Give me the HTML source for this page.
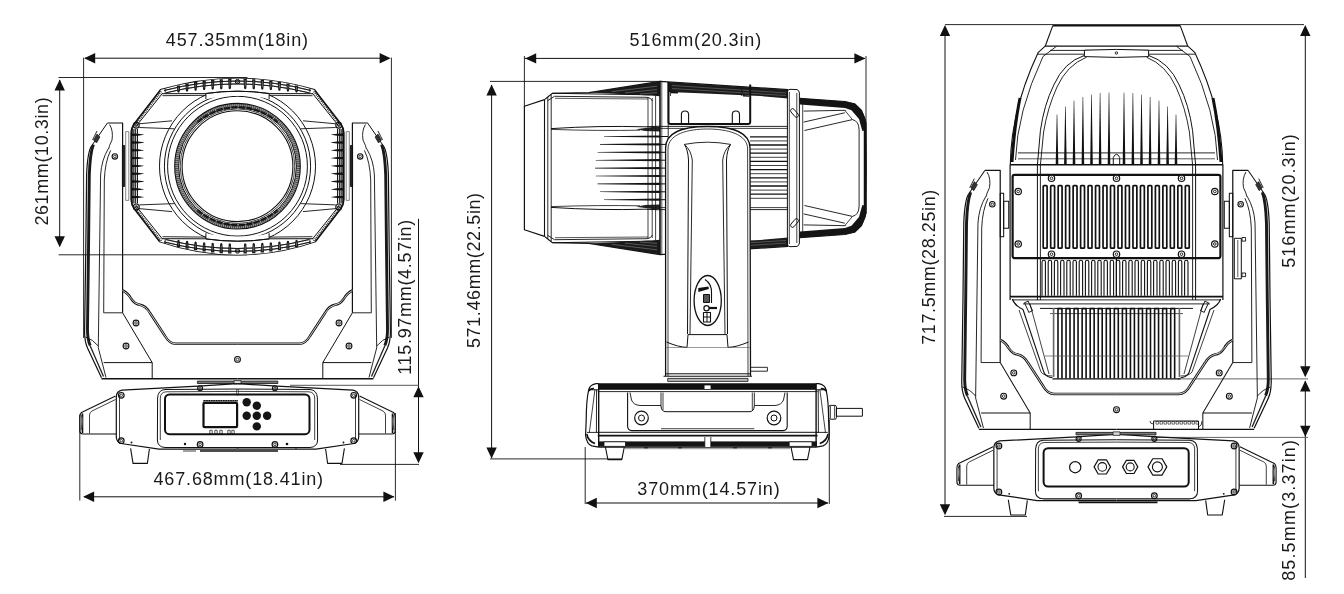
<!DOCTYPE html>
<html><head><meta charset="utf-8"><style>
html,body{margin:0;padding:0;background:#fff;width:1344px;height:594px;overflow:hidden;}
svg{display:block;will-change:transform;}
text{font-family:"Liberation Sans",sans-serif;font-size:18px;fill:#1a1a1a;}
</style></head><body>
<svg width="1344" height="594" viewBox="0 0 1344 594" stroke-linecap="butt" stroke-linejoin="round">
<text x="165.8" y="46.4" textLength="142.3" lengthAdjust="spacing">457.35mm(18in)</text>
<line x1="85" y1="58.2" x2="389" y2="58.2" stroke="#111" stroke-width="1"/>
<polygon points="84.2,58.2 95.2,53 95.2,63.4" fill="#111" stroke="none" stroke-width="1"/>
<polygon points="390.6,58.2 379.6,53 379.6,63.4" fill="#111" stroke="none" stroke-width="1"/>
<line x1="83.6" y1="57.6" x2="83.6" y2="338" stroke="#111" stroke-width="0.9"/>
<line x1="391.4" y1="57.6" x2="391.4" y2="338" stroke="#111" stroke-width="0.9"/>
<text x="0" y="0" transform="translate(48.1,225.6) rotate(-90)" textLength="128.3" lengthAdjust="spacing">261mm(10.3in)</text>
<line x1="59.7" y1="80" x2="59.7" y2="246" stroke="#111" stroke-width="1"/>
<polygon points="59.7,79.4 54.5,90.4 64.9,90.4" fill="#111" stroke="none" stroke-width="1"/>
<polygon points="59.7,247.2 54.5,236.2 64.9,236.2" fill="#111" stroke="none" stroke-width="1"/>
<line x1="58.6" y1="77.5" x2="247.5" y2="77.5" stroke="#111" stroke-width="0.9"/>
<line x1="58.6" y1="254.8" x2="247" y2="254.8" stroke="#111" stroke-width="0.9"/>
<text x="0" y="0" transform="translate(410.8,374.8) rotate(-90)" textLength="155.1" lengthAdjust="spacing">115.97mm(4.57in)</text>
<line x1="418.5" y1="218.8" x2="418.5" y2="462" stroke="#111" stroke-width="1"/>
<polygon points="418.5,386.3 413.3,397.3 423.7,397.3" fill="#111" stroke="none" stroke-width="1"/>
<polygon points="418.5,463.2 413.3,452.2 423.7,452.2" fill="#111" stroke="none" stroke-width="1"/>
<line x1="290" y1="385.3" x2="419" y2="385.3" stroke="#444" stroke-width="0.9"/>
<line x1="340" y1="464.4" x2="419" y2="464.4" stroke="#111" stroke-width="0.9"/>
<text x="153.5" y="485.2" textLength="169.6" lengthAdjust="spacing">467.68mm(18.41in)</text>
<line x1="84" y1="496.8" x2="394" y2="496.8" stroke="#111" stroke-width="1"/>
<polygon points="83.1,496.8 94.1,491.6 94.1,502" fill="#111" stroke="none" stroke-width="1"/>
<polygon points="394.4,496.8 383.4,491.6 383.4,502" fill="#111" stroke="none" stroke-width="1"/>
<line x1="79.8" y1="414.5" x2="79.8" y2="500.5" stroke="#111" stroke-width="0.9"/>
<line x1="395.4" y1="413" x2="395.4" y2="500.7" stroke="#111" stroke-width="0.9"/>
<text x="629.6" y="46.2" textLength="131.6" lengthAdjust="spacing">516mm(20.3in)</text>
<line x1="525" y1="58.4" x2="865" y2="58.4" stroke="#111" stroke-width="1"/>
<polygon points="525.2,58.4 536.2,53.2 536.2,63.6" fill="#111" stroke="none" stroke-width="1"/>
<polygon points="865.4,58.4 854.4,53.2 854.4,63.6" fill="#111" stroke="none" stroke-width="1"/>
<line x1="524.4" y1="56" x2="524.4" y2="107" stroke="#111" stroke-width="0.9"/>
<line x1="866" y1="56" x2="866" y2="122" stroke="#111" stroke-width="0.9"/>
<text x="0" y="0" transform="translate(479.8,348) rotate(-90)" textLength="155.1" lengthAdjust="spacing">571.46mm(22.5in)</text>
<line x1="491.6" y1="85" x2="491.6" y2="458" stroke="#111" stroke-width="1"/>
<polygon points="491.6,84.4 486.4,95.4 496.8,95.4" fill="#111" stroke="none" stroke-width="1"/>
<polygon points="491.6,458.6 486.4,447.6 496.8,447.6" fill="#111" stroke="none" stroke-width="1"/>
<line x1="490" y1="81.4" x2="662" y2="81.4" stroke="#111" stroke-width="0.9"/>
<line x1="490" y1="458.9" x2="622" y2="458.9" stroke="#111" stroke-width="0.9"/>
<text x="637.3" y="494.5" textLength="142.4" lengthAdjust="spacing">370mm(14.57in)</text>
<line x1="586" y1="503" x2="828" y2="503" stroke="#111" stroke-width="1"/>
<polygon points="585.8,503 596.8,497.8 596.8,508.2" fill="#111" stroke="none" stroke-width="1"/>
<polygon points="828.4,503 817.4,497.8 817.4,508.2" fill="#111" stroke="none" stroke-width="1"/>
<line x1="585.2" y1="447" x2="585.2" y2="504" stroke="#111" stroke-width="0.9"/>
<line x1="829.3" y1="420" x2="829.3" y2="504" stroke="#111" stroke-width="0.9"/>
<text x="0" y="0" transform="translate(935.2,344.8) rotate(-90)" textLength="155.1" lengthAdjust="spacing">717.5mm(28.25in)</text>
<line x1="945" y1="27" x2="945" y2="513" stroke="#111" stroke-width="1"/>
<polygon points="945,25 939.8,36 950.2,36" fill="#111" stroke="none" stroke-width="1"/>
<polygon points="945,515.2 939.8,504.2 950.2,504.2" fill="#111" stroke="none" stroke-width="1"/>
<line x1="945" y1="24.6" x2="1304" y2="24.6" stroke="#111" stroke-width="0.9"/>
<line x1="944" y1="516.4" x2="1027" y2="516.4" stroke="#111" stroke-width="0.9"/>
<text x="0" y="0" transform="translate(1295,267.7) rotate(-90)" textLength="133.4" lengthAdjust="spacing">516mm(20.3in)</text>
<line x1="1305.3" y1="27" x2="1305.3" y2="376" stroke="#111" stroke-width="1"/>
<polygon points="1305.3,25 1300.1,36 1310.5,36" fill="#111" stroke="none" stroke-width="1"/>
<polygon points="1305.3,377.2 1300.1,366.2 1310.5,366.2" fill="#111" stroke="none" stroke-width="1"/>
<line x1="1177.7" y1="378.9" x2="1308" y2="378.9" stroke="#555" stroke-width="0.9"/>
<line x1="1305.3" y1="381" x2="1305.3" y2="578" stroke="#111" stroke-width="1"/>
<polygon points="1305.3,380.6 1300.1,391.6 1310.5,391.6" fill="#111" stroke="none" stroke-width="1"/>
<polygon points="1305.3,436.8 1300.1,425.8 1310.5,425.8" fill="#111" stroke="none" stroke-width="1"/>
<line x1="1157" y1="437.4" x2="1308" y2="437.4" stroke="#555" stroke-width="0.9"/>
<text x="0" y="0" transform="translate(1295.3,580.8) rotate(-90)" textLength="140.8" lengthAdjust="spacing">85.5mm(3.37in)</text>
<path d="M160.4 89.9 Q237.5 67.1 314.6 89.9 L340.5 123.5 Q343.8 128 343.8 133 L343.8 199.5 Q343.8 204.5 340.5 209 L315.4 241.4 Q237.5 267.9 159.6 241.4 L134.5 209 Q131.2 204.5 131.2 199.5 L131.2 133 Q131.2 128 134.5 123.5 Z" stroke="#111" stroke-width="1.7" fill="none" />
<circle cx="237.5" cy="166.2" r="78" stroke="#111" stroke-width="1.0" fill="none"/>
<circle cx="237.5" cy="166.2" r="73.1" stroke="#111" stroke-width="1.0" fill="none"/>
<circle cx="237.5" cy="166.2" r="69.9" stroke="#111" stroke-width="1.0" fill="none"/>
<circle cx="237.5" cy="166.2" r="60.8" stroke="#9a9a9a" stroke-width="3.6" fill="none"/>
<circle cx="237.5" cy="166.2" r="60.8" stroke="#333" stroke-width="3.6" fill="none" stroke-dasharray="0.7 1.3"/>
<path d="M197.5 122.19999999999999 A60.8 60.8 0 0 1 277.5 122.19999999999999" stroke="#222" stroke-width="2.6" fill="none" stroke-dasharray="6 1.5"/>
<path d="M197.5 210.2 A60.8 60.8 0 0 0 277.5 210.2" stroke="#222" stroke-width="2.6" fill="none" stroke-dasharray="6 1.5"/>
<circle cx="237.5" cy="166.2" r="62.8" stroke="#111" stroke-width="1.1" fill="none"/>
<circle cx="237.5" cy="166.2" r="58.9" stroke="#111" stroke-width="1.0" fill="none"/>
<circle cx="237.5" cy="166.2" r="57.3" stroke="#111" stroke-width="0.8" fill="none"/>
<circle cx="237.5" cy="166.2" r="55.4" stroke="#111" stroke-width="1.1" fill="none"/>
<path d="M160.4 89.9 Q237.5 67.1 314.6 89.9 L313 95.6 L269.3 93.9 L269.3 99 Q237.5 92.5 205.9 99 L205.9 93.9 L162 95.6 Z" stroke="none" stroke-width="0" fill="#fff" />
<path d="M159.6 241.4 Q237.5 267.9 315.4 241.4 L313 236.9 L269.3 238.6 L269.3 233.5 Q237.5 240 205.9 233.5 L205.9 238.6 L162 236.9 Z" stroke="none" stroke-width="0" fill="#fff" />
<line x1="162" y1="93.7" x2="205.9" y2="93.6" stroke="#111" stroke-width="1.0"/>
<line x1="162.5" y1="95.7" x2="205.9" y2="95.3" stroke="#111" stroke-width="0.9"/>
<line x1="205.9" y1="93.3" x2="205.9" y2="99.2" stroke="#111" stroke-width="1.0"/>
<path d="M205.9 93.5 Q237.5 88.9 269.1 93.5" stroke="#111" stroke-width="1.0" fill="none" />
<path d="M164 90.5 Q237.5 71.5 311 90.5" stroke="#111" stroke-width="0.8" fill="none" />
<path d="M166 92.8 Q237.5 75 309 92.8" stroke="#111" stroke-width="0.8" fill="none" />
<line x1="165.2" y1="88.6" x2="165.2" y2="93.5" stroke="#111" stroke-width="0.8"/>
<path d="M176.80 85.38 L180.20 85.38 L179.60 91.76 Q178.50 93.46 177.40 91.76 Z" stroke="none" stroke-width="0" fill="#1a1a1a" />
<line x1="178.5" y1="86.68" x2="178.5" y2="90.06" stroke="#888" stroke-width="0.7"/>
<path d="M185.35 83.58 L188.75 83.58 L188.15 90.82 Q187.05 92.52 185.95 90.82 Z" stroke="none" stroke-width="0" fill="#1a1a1a" />
<line x1="187.05" y1="84.88" x2="187.05" y2="89.12" stroke="#888" stroke-width="0.7"/>
<path d="M193.90 82.07 L197.30 82.07 L196.70 90.02 Q195.60 91.72 194.50 90.02 Z" stroke="none" stroke-width="0" fill="#1a1a1a" />
<line x1="195.6" y1="83.37" x2="195.6" y2="88.32" stroke="#888" stroke-width="0.7"/>
<path d="M202.45 80.83 L205.85 80.83 L205.25 89.37 Q204.15 91.07 203.05 89.37 Z" stroke="none" stroke-width="0" fill="#1a1a1a" />
<line x1="204.15" y1="82.13" x2="204.15" y2="87.67" stroke="#888" stroke-width="0.7"/>
<path d="M211.00 79.88 L214.40 79.88 L213.80 88.87 Q212.70 90.57 211.60 88.87 Z" stroke="none" stroke-width="0" fill="#1a1a1a" />
<line x1="212.7" y1="81.18" x2="212.7" y2="87.17" stroke="#888" stroke-width="0.7"/>
<path d="M219.55 79.21 L222.95 79.21 L222.35 88.52 Q221.25 90.22 220.15 88.52 Z" stroke="none" stroke-width="0" fill="#1a1a1a" />
<line x1="221.25" y1="80.51" x2="221.25" y2="86.82" stroke="#888" stroke-width="0.7"/>
<path d="M228.10 78.81 L231.50 78.81 L230.90 88.31 Q229.80 90.01 228.70 88.31 Z" stroke="none" stroke-width="0" fill="#1a1a1a" />
<line x1="229.8" y1="80.11" x2="229.8" y2="86.61" stroke="#888" stroke-width="0.7"/>
<line x1="162.6" y1="93.2" x2="136" y2="126.4" stroke="#111" stroke-width="1.0"/>
<line x1="161.3" y1="91.5" x2="134.3" y2="125.8" stroke="#333" stroke-width="1.8" stroke-dasharray="1 1"/>
<line x1="133" y1="129" x2="133" y2="203.5" stroke="#111" stroke-width="0.9"/>
<line x1="135.2" y1="129" x2="135.2" y2="203.5" stroke="#111" stroke-width="0.9"/>
<line x1="137.4" y1="129" x2="137.4" y2="203.5" stroke="#111" stroke-width="0.9"/>
<line x1="139" y1="123.8" x2="172" y2="120.8" stroke="#111" stroke-width="0.9"/>
<line x1="139.3" y1="127.5" x2="174.5" y2="128.8" stroke="#111" stroke-width="0.9"/>
<g transform="translate(475.0,0) scale(-1,1)">
<line x1="162" y1="93.7" x2="205.9" y2="93.6" stroke="#111" stroke-width="1.0"/>
<line x1="162.5" y1="95.7" x2="205.9" y2="95.3" stroke="#111" stroke-width="0.9"/>
<line x1="205.9" y1="93.3" x2="205.9" y2="99.2" stroke="#111" stroke-width="1.0"/>
<path d="M205.9 93.5 Q237.5 88.9 269.1 93.5" stroke="#111" stroke-width="1.0" fill="none" />
<path d="M164 90.5 Q237.5 71.5 311 90.5" stroke="#111" stroke-width="0.8" fill="none" />
<path d="M166 92.8 Q237.5 75 309 92.8" stroke="#111" stroke-width="0.8" fill="none" />
<line x1="165.2" y1="88.6" x2="165.2" y2="93.5" stroke="#111" stroke-width="0.8"/>
<path d="M176.80 85.38 L180.20 85.38 L179.60 91.76 Q178.50 93.46 177.40 91.76 Z" stroke="none" stroke-width="0" fill="#1a1a1a" />
<line x1="178.5" y1="86.68" x2="178.5" y2="90.06" stroke="#888" stroke-width="0.7"/>
<path d="M185.35 83.58 L188.75 83.58 L188.15 90.82 Q187.05 92.52 185.95 90.82 Z" stroke="none" stroke-width="0" fill="#1a1a1a" />
<line x1="187.05" y1="84.88" x2="187.05" y2="89.12" stroke="#888" stroke-width="0.7"/>
<path d="M193.90 82.07 L197.30 82.07 L196.70 90.02 Q195.60 91.72 194.50 90.02 Z" stroke="none" stroke-width="0" fill="#1a1a1a" />
<line x1="195.6" y1="83.37" x2="195.6" y2="88.32" stroke="#888" stroke-width="0.7"/>
<path d="M202.45 80.83 L205.85 80.83 L205.25 89.37 Q204.15 91.07 203.05 89.37 Z" stroke="none" stroke-width="0" fill="#1a1a1a" />
<line x1="204.15" y1="82.13" x2="204.15" y2="87.67" stroke="#888" stroke-width="0.7"/>
<path d="M211.00 79.88 L214.40 79.88 L213.80 88.87 Q212.70 90.57 211.60 88.87 Z" stroke="none" stroke-width="0" fill="#1a1a1a" />
<line x1="212.7" y1="81.18" x2="212.7" y2="87.17" stroke="#888" stroke-width="0.7"/>
<path d="M219.55 79.21 L222.95 79.21 L222.35 88.52 Q221.25 90.22 220.15 88.52 Z" stroke="none" stroke-width="0" fill="#1a1a1a" />
<line x1="221.25" y1="80.51" x2="221.25" y2="86.82" stroke="#888" stroke-width="0.7"/>
<path d="M228.10 78.81 L231.50 78.81 L230.90 88.31 Q229.80 90.01 228.70 88.31 Z" stroke="none" stroke-width="0" fill="#1a1a1a" />
<line x1="229.8" y1="80.11" x2="229.8" y2="86.61" stroke="#888" stroke-width="0.7"/>
<line x1="162.6" y1="93.2" x2="136" y2="126.4" stroke="#111" stroke-width="1.0"/>
<line x1="161.3" y1="91.5" x2="134.3" y2="125.8" stroke="#333" stroke-width="1.8" stroke-dasharray="1 1"/>
<line x1="133" y1="129" x2="133" y2="203.5" stroke="#111" stroke-width="0.9"/>
<line x1="135.2" y1="129" x2="135.2" y2="203.5" stroke="#111" stroke-width="0.9"/>
<line x1="137.4" y1="129" x2="137.4" y2="203.5" stroke="#111" stroke-width="0.9"/>
<line x1="139" y1="123.8" x2="172" y2="120.8" stroke="#111" stroke-width="0.9"/>
<line x1="139.3" y1="127.5" x2="174.5" y2="128.8" stroke="#111" stroke-width="0.9"/>
</g>
<g transform="translate(0,332.4) scale(1,-1)">
<line x1="162" y1="93.7" x2="205.9" y2="93.6" stroke="#111" stroke-width="1.0"/>
<line x1="162.5" y1="95.7" x2="205.9" y2="95.3" stroke="#111" stroke-width="0.9"/>
<line x1="205.9" y1="93.3" x2="205.9" y2="99.2" stroke="#111" stroke-width="1.0"/>
<path d="M205.9 93.5 Q237.5 88.9 269.1 93.5" stroke="#111" stroke-width="1.0" fill="none" />
<path d="M164 90.5 Q237.5 71.5 311 90.5" stroke="#111" stroke-width="0.8" fill="none" />
<path d="M166 92.8 Q237.5 75 309 92.8" stroke="#111" stroke-width="0.8" fill="none" />
<line x1="165.2" y1="88.6" x2="165.2" y2="93.5" stroke="#111" stroke-width="0.8"/>
<path d="M176.80 85.38 L180.20 85.38 L179.60 91.76 Q178.50 93.46 177.40 91.76 Z" stroke="none" stroke-width="0" fill="#1a1a1a" />
<line x1="178.5" y1="86.68" x2="178.5" y2="90.06" stroke="#888" stroke-width="0.7"/>
<path d="M185.35 83.58 L188.75 83.58 L188.15 90.82 Q187.05 92.52 185.95 90.82 Z" stroke="none" stroke-width="0" fill="#1a1a1a" />
<line x1="187.05" y1="84.88" x2="187.05" y2="89.12" stroke="#888" stroke-width="0.7"/>
<path d="M193.90 82.07 L197.30 82.07 L196.70 90.02 Q195.60 91.72 194.50 90.02 Z" stroke="none" stroke-width="0" fill="#1a1a1a" />
<line x1="195.6" y1="83.37" x2="195.6" y2="88.32" stroke="#888" stroke-width="0.7"/>
<path d="M202.45 80.83 L205.85 80.83 L205.25 89.37 Q204.15 91.07 203.05 89.37 Z" stroke="none" stroke-width="0" fill="#1a1a1a" />
<line x1="204.15" y1="82.13" x2="204.15" y2="87.67" stroke="#888" stroke-width="0.7"/>
<path d="M211.00 79.88 L214.40 79.88 L213.80 88.87 Q212.70 90.57 211.60 88.87 Z" stroke="none" stroke-width="0" fill="#1a1a1a" />
<line x1="212.7" y1="81.18" x2="212.7" y2="87.17" stroke="#888" stroke-width="0.7"/>
<path d="M219.55 79.21 L222.95 79.21 L222.35 88.52 Q221.25 90.22 220.15 88.52 Z" stroke="none" stroke-width="0" fill="#1a1a1a" />
<line x1="221.25" y1="80.51" x2="221.25" y2="86.82" stroke="#888" stroke-width="0.7"/>
<path d="M228.10 78.81 L231.50 78.81 L230.90 88.31 Q229.80 90.01 228.70 88.31 Z" stroke="none" stroke-width="0" fill="#1a1a1a" />
<line x1="229.8" y1="80.11" x2="229.8" y2="86.61" stroke="#888" stroke-width="0.7"/>
<line x1="162.6" y1="93.2" x2="136" y2="126.4" stroke="#111" stroke-width="1.0"/>
<line x1="161.3" y1="91.5" x2="134.3" y2="125.8" stroke="#333" stroke-width="1.8" stroke-dasharray="1 1"/>
<line x1="133" y1="129" x2="133" y2="203.5" stroke="#111" stroke-width="0.9"/>
<line x1="135.2" y1="129" x2="135.2" y2="203.5" stroke="#111" stroke-width="0.9"/>
<line x1="137.4" y1="129" x2="137.4" y2="203.5" stroke="#111" stroke-width="0.9"/>
<line x1="139" y1="123.8" x2="172" y2="120.8" stroke="#111" stroke-width="0.9"/>
<line x1="139.3" y1="127.5" x2="174.5" y2="128.8" stroke="#111" stroke-width="0.9"/>
</g>
<g transform="translate(475.0,332.4) scale(-1,-1)">
<line x1="162" y1="93.7" x2="205.9" y2="93.6" stroke="#111" stroke-width="1.0"/>
<line x1="162.5" y1="95.7" x2="205.9" y2="95.3" stroke="#111" stroke-width="0.9"/>
<line x1="205.9" y1="93.3" x2="205.9" y2="99.2" stroke="#111" stroke-width="1.0"/>
<path d="M205.9 93.5 Q237.5 88.9 269.1 93.5" stroke="#111" stroke-width="1.0" fill="none" />
<path d="M164 90.5 Q237.5 71.5 311 90.5" stroke="#111" stroke-width="0.8" fill="none" />
<path d="M166 92.8 Q237.5 75 309 92.8" stroke="#111" stroke-width="0.8" fill="none" />
<line x1="165.2" y1="88.6" x2="165.2" y2="93.5" stroke="#111" stroke-width="0.8"/>
<path d="M176.80 85.38 L180.20 85.38 L179.60 91.76 Q178.50 93.46 177.40 91.76 Z" stroke="none" stroke-width="0" fill="#1a1a1a" />
<line x1="178.5" y1="86.68" x2="178.5" y2="90.06" stroke="#888" stroke-width="0.7"/>
<path d="M185.35 83.58 L188.75 83.58 L188.15 90.82 Q187.05 92.52 185.95 90.82 Z" stroke="none" stroke-width="0" fill="#1a1a1a" />
<line x1="187.05" y1="84.88" x2="187.05" y2="89.12" stroke="#888" stroke-width="0.7"/>
<path d="M193.90 82.07 L197.30 82.07 L196.70 90.02 Q195.60 91.72 194.50 90.02 Z" stroke="none" stroke-width="0" fill="#1a1a1a" />
<line x1="195.6" y1="83.37" x2="195.6" y2="88.32" stroke="#888" stroke-width="0.7"/>
<path d="M202.45 80.83 L205.85 80.83 L205.25 89.37 Q204.15 91.07 203.05 89.37 Z" stroke="none" stroke-width="0" fill="#1a1a1a" />
<line x1="204.15" y1="82.13" x2="204.15" y2="87.67" stroke="#888" stroke-width="0.7"/>
<path d="M211.00 79.88 L214.40 79.88 L213.80 88.87 Q212.70 90.57 211.60 88.87 Z" stroke="none" stroke-width="0" fill="#1a1a1a" />
<line x1="212.7" y1="81.18" x2="212.7" y2="87.17" stroke="#888" stroke-width="0.7"/>
<path d="M219.55 79.21 L222.95 79.21 L222.35 88.52 Q221.25 90.22 220.15 88.52 Z" stroke="none" stroke-width="0" fill="#1a1a1a" />
<line x1="221.25" y1="80.51" x2="221.25" y2="86.82" stroke="#888" stroke-width="0.7"/>
<path d="M228.10 78.81 L231.50 78.81 L230.90 88.31 Q229.80 90.01 228.70 88.31 Z" stroke="none" stroke-width="0" fill="#1a1a1a" />
<line x1="229.8" y1="80.11" x2="229.8" y2="86.61" stroke="#888" stroke-width="0.7"/>
<line x1="162.6" y1="93.2" x2="136" y2="126.4" stroke="#111" stroke-width="1.0"/>
<line x1="161.3" y1="91.5" x2="134.3" y2="125.8" stroke="#333" stroke-width="1.8" stroke-dasharray="1 1"/>
<line x1="133" y1="129" x2="133" y2="203.5" stroke="#111" stroke-width="0.9"/>
<line x1="135.2" y1="129" x2="135.2" y2="203.5" stroke="#111" stroke-width="0.9"/>
<line x1="137.4" y1="129" x2="137.4" y2="203.5" stroke="#111" stroke-width="0.9"/>
<line x1="139" y1="123.8" x2="172" y2="120.8" stroke="#111" stroke-width="0.9"/>
<line x1="139.3" y1="127.5" x2="174.5" y2="128.8" stroke="#111" stroke-width="0.9"/>
</g>
<polygon points="131.5,133.5 138,133.7 143.8,134.55 143.8,134.85 138,135.7 131.5,135.9" fill="#111" stroke="none" stroke-width="1"/>
<polygon points="343.5,133.5 337,133.7 331.2,134.55 331.2,134.85 337,135.7 343.5,135.9" fill="#111" stroke="none" stroke-width="1"/>
<polygon points="131.5,141.3 138,141.5 143.8,142.35 143.8,142.65 138,143.5 131.5,143.7" fill="#111" stroke="none" stroke-width="1"/>
<polygon points="343.5,141.3 337,141.5 331.2,142.35 331.2,142.65 337,143.5 343.5,143.7" fill="#111" stroke="none" stroke-width="1"/>
<polygon points="131.5,149.1 138,149.3 143.8,150.15 143.8,150.45 138,151.3 131.5,151.5" fill="#111" stroke="none" stroke-width="1"/>
<polygon points="343.5,149.1 337,149.3 331.2,150.15 331.2,150.45 337,151.3 343.5,151.5" fill="#111" stroke="none" stroke-width="1"/>
<polygon points="131.5,156.9 138,157.1 143.8,157.95 143.8,158.25 138,159.1 131.5,159.3" fill="#111" stroke="none" stroke-width="1"/>
<polygon points="343.5,156.9 337,157.1 331.2,157.95 331.2,158.25 337,159.1 343.5,159.3" fill="#111" stroke="none" stroke-width="1"/>
<polygon points="131.5,164.7 138,164.9 143.8,165.75 143.8,166.05 138,166.9 131.5,167.1" fill="#111" stroke="none" stroke-width="1"/>
<polygon points="343.5,164.7 337,164.9 331.2,165.75 331.2,166.05 337,166.9 343.5,167.1" fill="#111" stroke="none" stroke-width="1"/>
<polygon points="131.5,172.5 138,172.7 143.8,173.55 143.8,173.85 138,174.7 131.5,174.9" fill="#111" stroke="none" stroke-width="1"/>
<polygon points="343.5,172.5 337,172.7 331.2,173.55 331.2,173.85 337,174.7 343.5,174.9" fill="#111" stroke="none" stroke-width="1"/>
<polygon points="131.5,180.3 138,180.5 143.8,181.35 143.8,181.65 138,182.5 131.5,182.7" fill="#111" stroke="none" stroke-width="1"/>
<polygon points="343.5,180.3 337,180.5 331.2,181.35 331.2,181.65 337,182.5 343.5,182.7" fill="#111" stroke="none" stroke-width="1"/>
<polygon points="131.5,188.1 138,188.3 143.8,189.15 143.8,189.45 138,190.3 131.5,190.5" fill="#111" stroke="none" stroke-width="1"/>
<polygon points="343.5,188.1 337,188.3 331.2,189.15 331.2,189.45 337,190.3 343.5,190.5" fill="#111" stroke="none" stroke-width="1"/>
<polygon points="131.5,195.9 138,196.1 143.8,196.95 143.8,197.25 138,198.1 131.5,198.3" fill="#111" stroke="none" stroke-width="1"/>
<polygon points="343.5,195.9 337,196.1 331.2,196.95 331.2,197.25 337,198.1 343.5,198.3" fill="#111" stroke="none" stroke-width="1"/>
<circle cx="136.3" cy="125.2" r="2.9" stroke="#111" stroke-width="1.2" fill="none"/>
<circle cx="136.3" cy="125.2" r="1.3" stroke="#111" stroke-width="0.8" fill="none"/>
<circle cx="338.7" cy="125.2" r="2.9" stroke="#111" stroke-width="1.2" fill="none"/>
<circle cx="338.7" cy="125.2" r="1.3" stroke="#111" stroke-width="0.8" fill="none"/>
<circle cx="136.3" cy="206.9" r="2.9" stroke="#111" stroke-width="1.2" fill="none"/>
<circle cx="136.3" cy="206.9" r="1.3" stroke="#111" stroke-width="0.8" fill="none"/>
<circle cx="338.7" cy="206.9" r="2.9" stroke="#111" stroke-width="1.2" fill="none"/>
<circle cx="338.7" cy="206.9" r="1.3" stroke="#111" stroke-width="0.8" fill="none"/>
<circle cx="237.5" cy="81.6" r="2.2" stroke="#111" stroke-width="1" fill="none"/>
<circle cx="237.5" cy="81.6" r="0.99" stroke="#111" stroke-width="0.8" fill="none"/>
<circle cx="237.5" cy="251" r="2.2" stroke="#111" stroke-width="1" fill="none"/>
<circle cx="237.5" cy="251" r="0.99" stroke="#111" stroke-width="0.8" fill="none"/>
<path d="M107.4 123 L91.5 146" stroke="#111" stroke-width="1.0" fill="none" />
<path d="M91.5 146 Q87.5 152 86.6 175 L85.8 250 L84.6 330 Q84.3 341 87.5 348 L101.5 377.8" stroke="#111" stroke-width="1.2" fill="none" />
<path d="M93.4 144.5 Q90.1 153 89.3 175 L88.5 250 L87.5 328 Q87.3 339 90.2 345.5" stroke="#1a1a1a" stroke-width="2.9" fill="none" />
<path d="M90 345.5 L103.5 376.5" stroke="#222" stroke-width="1.3" fill="none" />
<path d="M93.5 140 L97 134 L100 137 L96.5 143 Z" fill="#333" stroke="#111" stroke-width="0.6"/>
<path d="M85.5 337 Q93 339.5 98.3 346" stroke="#111" stroke-width="0.9" fill="none" />
<path d="M107.4 123 L122.6 123 L122.6 312.8" stroke="#111" stroke-width="1.2" fill="none" />
<path d="M109.6 124.5 Q113.5 131 112 140 Q109 146 108.6 149" stroke="#111" stroke-width="0.9" fill="none" />
<path d="M108.4 148.5 Q101.5 160 100.6 175 L98.3 347.8 L106 377.5" stroke="#111" stroke-width="0.9" fill="none" />
<path d="M110.6 150.4 Q105 162 104.3 180 L103.7 312.8 L122.6 312.8" stroke="#111" stroke-width="0.9" fill="none" />
<path d="M97 131 Q94 137 92.5 140" stroke="#111" stroke-width="0.9" fill="none" />
<circle cx="114.8" cy="156.4" r="2.7" stroke="#111" stroke-width="1.1" fill="none"/>
<circle cx="114.8" cy="156.4" r="1.22" stroke="#111" stroke-width="0.8" fill="none"/>
<rect x="122.4" y="145.5" width="2.2" height="41" rx="0" stroke="#111" stroke-width="0.9" fill="#222"/>
<rect x="125.7" y="131.6" width="3.1" height="68.8" rx="0" stroke="#666" stroke-width="0.8" fill="none"/>
<line x1="122.6" y1="312.8" x2="152.2" y2="362.6" stroke="#111" stroke-width="1.0"/>
<line x1="152.2" y1="362.6" x2="152.2" y2="378.8" stroke="#111" stroke-width="1.0"/>
<line x1="103.7" y1="362.6" x2="152.2" y2="362.6" stroke="#111" stroke-width="1.0"/>
<path d="M122.6 290.5 Q128 293 131 298.5 Q135 304.5 140 304.8 Q146 306 150 313 L165 336 Q169.5 343.8 176 343.8 L237.5 343.8" stroke="#111" stroke-width="2.5" fill="none" />
<path d="M122.6 290.5 Q128 293 131 298.5 Q135 304.5 140 304.8 Q146 306 150 313 L165 336 Q169.5 343.8 176 343.8 L237.5 343.8" stroke="#fff" stroke-width="0.8" fill="none" />
<circle cx="136" cy="323" r="2.9" stroke="#111" stroke-width="1.1" fill="none"/>
<circle cx="136" cy="323" r="1.3" stroke="#111" stroke-width="0.8" fill="none"/>
<circle cx="126" cy="346" r="2.9" stroke="#111" stroke-width="1.1" fill="none"/>
<circle cx="126" cy="346" r="1.3" stroke="#111" stroke-width="0.8" fill="none"/>
<line x1="101.5" y1="378.8" x2="237.5" y2="378.8" stroke="#111" stroke-width="1.4"/>
<g transform="translate(475.0,0) scale(-1,1)">
<path d="M107.4 123 L91.5 146" stroke="#111" stroke-width="1.0" fill="none" />
<path d="M91.5 146 Q87.5 152 86.6 175 L85.8 250 L84.6 330 Q84.3 341 87.5 348 L101.5 377.8" stroke="#111" stroke-width="1.2" fill="none" />
<path d="M93.4 144.5 Q90.1 153 89.3 175 L88.5 250 L87.5 328 Q87.3 339 90.2 345.5" stroke="#1a1a1a" stroke-width="2.9" fill="none" />
<path d="M90 345.5 L103.5 376.5" stroke="#222" stroke-width="1.3" fill="none" />
<path d="M93.5 140 L97 134 L100 137 L96.5 143 Z" fill="#333" stroke="#111" stroke-width="0.6"/>
<path d="M85.5 337 Q93 339.5 98.3 346" stroke="#111" stroke-width="0.9" fill="none" />
<path d="M107.4 123 L122.6 123 L122.6 312.8" stroke="#111" stroke-width="1.2" fill="none" />
<path d="M109.6 124.5 Q113.5 131 112 140 Q109 146 108.6 149" stroke="#111" stroke-width="0.9" fill="none" />
<path d="M108.4 148.5 Q101.5 160 100.6 175 L98.3 347.8 L106 377.5" stroke="#111" stroke-width="0.9" fill="none" />
<path d="M110.6 150.4 Q105 162 104.3 180 L103.7 312.8 L122.6 312.8" stroke="#111" stroke-width="0.9" fill="none" />
<path d="M97 131 Q94 137 92.5 140" stroke="#111" stroke-width="0.9" fill="none" />
<circle cx="114.8" cy="156.4" r="2.7" stroke="#111" stroke-width="1.1" fill="none"/>
<circle cx="114.8" cy="156.4" r="1.22" stroke="#111" stroke-width="0.8" fill="none"/>
<rect x="122.4" y="145.5" width="2.2" height="41" rx="0" stroke="#111" stroke-width="0.9" fill="#222"/>
<rect x="125.7" y="131.6" width="3.1" height="68.8" rx="0" stroke="#666" stroke-width="0.8" fill="none"/>
<line x1="122.6" y1="312.8" x2="152.2" y2="362.6" stroke="#111" stroke-width="1.0"/>
<line x1="152.2" y1="362.6" x2="152.2" y2="378.8" stroke="#111" stroke-width="1.0"/>
<line x1="103.7" y1="362.6" x2="152.2" y2="362.6" stroke="#111" stroke-width="1.0"/>
<path d="M122.6 290.5 Q128 293 131 298.5 Q135 304.5 140 304.8 Q146 306 150 313 L165 336 Q169.5 343.8 176 343.8 L237.5 343.8" stroke="#111" stroke-width="2.5" fill="none" />
<path d="M122.6 290.5 Q128 293 131 298.5 Q135 304.5 140 304.8 Q146 306 150 313 L165 336 Q169.5 343.8 176 343.8 L237.5 343.8" stroke="#fff" stroke-width="0.8" fill="none" />
<circle cx="136" cy="323" r="2.9" stroke="#111" stroke-width="1.1" fill="none"/>
<circle cx="136" cy="323" r="1.3" stroke="#111" stroke-width="0.8" fill="none"/>
<circle cx="126" cy="346" r="2.9" stroke="#111" stroke-width="1.1" fill="none"/>
<circle cx="126" cy="346" r="1.3" stroke="#111" stroke-width="0.8" fill="none"/>
<line x1="101.5" y1="378.8" x2="237.5" y2="378.8" stroke="#111" stroke-width="1.4"/>
</g>
<circle cx="237.5" cy="359.4" r="2.9" stroke="#111" stroke-width="1.1" fill="none"/>
<circle cx="237.5" cy="359.4" r="1.3" stroke="#111" stroke-width="0.8" fill="none"/>
<rect x="197.4" y="381.1" width="80.4" height="2.4" rx="0" stroke="#111" stroke-width="0.8" fill="#777"/>
<rect x="234" y="380.6" width="7" height="3.4" rx="0" stroke="#111" stroke-width="0.7" fill="#ddd"/>
<path d="M115.5 396 L81.5 412.5 Q79.8 414 79.8 417 L79.8 431 Q80 434 83 434 L116.3 434" stroke="#111" stroke-width="1.1" fill="none" />
<line x1="82.5" y1="413.5" x2="82.5" y2="433" stroke="#111" stroke-width="1.6"/>
<path d="M115.5 399.5 L92 411 Q89.5 412.5 89.5 415 L89.5 433.5" stroke="#111" stroke-width="0.8" fill="none" />
<path d="M81 415 Q83.5 420 81 430" stroke="#555" stroke-width="1.6" fill="none" />
<path d="M237.5 383.6 L198 386.2 L122 390.2 Q116.3 391.5 116.3 397 L116.3 437 Q116.5 442 121 443.5 L159 449.2 L237.5 449.2" stroke="#111" stroke-width="1.2" fill="none" />
<line x1="119.5" y1="395" x2="119.5" y2="440" stroke="#111" stroke-width="0.8"/>
<path d="M130.6 448.4 L133 463.4 L147.4 463.4 L149.4 449" stroke="#111" stroke-width="1.1" fill="none" />
<path d="M237.5 389 L165 389.5 Q158 390 157.6 398 L157.4 440 Q157.5 447 165 447.5 L237.5 447.5" stroke="#111" stroke-width="1.0" fill="none" />
<path d="M237.5 391.4 L166 391.8 Q160.5 392.3 160.3 398 L160.3 440" stroke="#111" stroke-width="0.8" fill="none" />
<circle cx="121.3" cy="395.3" r="2.8" stroke="#111" stroke-width="1.2" fill="none"/>
<circle cx="121.3" cy="395.3" r="1.26" stroke="#111" stroke-width="0.8" fill="none"/>
<circle cx="121.3" cy="440.7" r="2.8" stroke="#111" stroke-width="1.2" fill="none"/>
<circle cx="121.3" cy="440.7" r="1.26" stroke="#111" stroke-width="0.8" fill="none"/>
<circle cx="200.1" cy="388.2" r="2.5" stroke="#111" stroke-width="1.1" fill="none"/>
<circle cx="200.1" cy="388.2" r="1.12" stroke="#111" stroke-width="0.8" fill="none"/>
<circle cx="200.1" cy="444.4" r="2.8" stroke="#111" stroke-width="1.2" fill="none"/>
<circle cx="200.1" cy="444.4" r="1.26" stroke="#111" stroke-width="0.8" fill="none"/>
<circle cx="131.5" cy="442.5" r="0.9" stroke="#111" stroke-width="0" fill="#111"/>
<g transform="translate(475.0,0) scale(-1,1)">
<path d="M115.5 396 L81.5 412.5 Q79.8 414 79.8 417 L79.8 431 Q80 434 83 434 L116.3 434" stroke="#111" stroke-width="1.1" fill="none" />
<line x1="82.5" y1="413.5" x2="82.5" y2="433" stroke="#111" stroke-width="1.6"/>
<path d="M115.5 399.5 L92 411 Q89.5 412.5 89.5 415 L89.5 433.5" stroke="#111" stroke-width="0.8" fill="none" />
<path d="M81 415 Q83.5 420 81 430" stroke="#555" stroke-width="1.6" fill="none" />
<path d="M237.5 383.6 L198 386.2 L122 390.2 Q116.3 391.5 116.3 397 L116.3 437 Q116.5 442 121 443.5 L159 449.2 L237.5 449.2" stroke="#111" stroke-width="1.2" fill="none" />
<line x1="119.5" y1="395" x2="119.5" y2="440" stroke="#111" stroke-width="0.8"/>
<path d="M130.6 448.4 L133 463.4 L147.4 463.4 L149.4 449" stroke="#111" stroke-width="1.1" fill="none" />
<path d="M237.5 389 L165 389.5 Q158 390 157.6 398 L157.4 440 Q157.5 447 165 447.5 L237.5 447.5" stroke="#111" stroke-width="1.0" fill="none" />
<path d="M237.5 391.4 L166 391.8 Q160.5 392.3 160.3 398 L160.3 440" stroke="#111" stroke-width="0.8" fill="none" />
<circle cx="121.3" cy="395.3" r="2.8" stroke="#111" stroke-width="1.2" fill="none"/>
<circle cx="121.3" cy="395.3" r="1.26" stroke="#111" stroke-width="0.8" fill="none"/>
<circle cx="121.3" cy="440.7" r="2.8" stroke="#111" stroke-width="1.2" fill="none"/>
<circle cx="121.3" cy="440.7" r="1.26" stroke="#111" stroke-width="0.8" fill="none"/>
<circle cx="200.1" cy="388.2" r="2.5" stroke="#111" stroke-width="1.1" fill="none"/>
<circle cx="200.1" cy="388.2" r="1.12" stroke="#111" stroke-width="0.8" fill="none"/>
<circle cx="200.1" cy="444.4" r="2.8" stroke="#111" stroke-width="1.2" fill="none"/>
<circle cx="200.1" cy="444.4" r="1.26" stroke="#111" stroke-width="0.8" fill="none"/>
<circle cx="131.5" cy="442.5" r="0.9" stroke="#111" stroke-width="0" fill="#111"/>
</g>
<rect x="165" y="394.4" width="144.5" height="39.8" rx="4.5" stroke="#111" stroke-width="2.0" fill="none"/>
<rect x="236.6" y="389.5" width="1.8" height="5.5" rx="0" stroke="#111" stroke-width="0.6" fill="none"/>
<rect x="203.5" y="402.8" width="33.6" height="24.4" rx="1" stroke="#111" stroke-width="2.2" fill="none"/>
<line x1="203" y1="400.7" x2="238" y2="400.7" stroke="#111" stroke-width="1.6"/>
<line x1="203" y1="400.7" x2="238" y2="400.7" stroke="#fff" stroke-width="0.6" stroke-dasharray="0.8 1.6"/>
<circle cx="246.7" cy="402.3" r="4.2" stroke="#111" stroke-width="0" fill="#151515"/>
<circle cx="256.8" cy="405.7" r="4.2" stroke="#111" stroke-width="0" fill="#151515"/>
<circle cx="246.7" cy="415.8" r="4.2" stroke="#111" stroke-width="0" fill="#151515"/>
<circle cx="256.8" cy="415.8" r="4.2" stroke="#111" stroke-width="0" fill="#151515"/>
<circle cx="267.1" cy="415.8" r="4.2" stroke="#111" stroke-width="0" fill="#151515"/>
<circle cx="256.8" cy="426.4" r="4.2" stroke="#111" stroke-width="0" fill="#151515"/>
<rect x="209.8" y="430.3" width="2.4" height="3.4" rx="0" stroke="#111" stroke-width="0.7" fill="none"/>
<rect x="214.8" y="430.3" width="2.4" height="3.4" rx="0" stroke="#111" stroke-width="0.7" fill="none"/>
<rect x="219.8" y="430.3" width="2.4" height="3.4" rx="0" stroke="#111" stroke-width="0.7" fill="none"/>
<rect x="227.8" y="430.3" width="2.4" height="3.4" rx="0" stroke="#111" stroke-width="0.7" fill="none"/>
<rect x="231.8" y="430.3" width="2.4" height="3.4" rx="0" stroke="#111" stroke-width="0.7" fill="none"/>
<line x1="200" y1="451" x2="278" y2="451" stroke="#111" stroke-width="1.6"/>
<line x1="183" y1="451" x2="196" y2="451" stroke="#111" stroke-width="0.8"/>
<circle cx="237.5" cy="448" r="0.8" stroke="#111" stroke-width="0" fill="#111"/>
<circle cx="296" cy="448" r="0.8" stroke="#111" stroke-width="0" fill="#111"/>
<circle cx="287" cy="444" r="1.3" stroke="#111" stroke-width="0" fill="#111"/>
<circle cx="185" cy="444" r="1.2" stroke="#111" stroke-width="0" fill="#111"/>
<path d="M524.4 168 L524.4 106.2 L544.5 99.6" stroke="#111" stroke-width="1.2" fill="none" />
<path d="M544.5 99.6 L552.5 93.3 L589 92.6 L660 81.4" stroke="#111" stroke-width="1.2" fill="none" />
<line x1="552.5" y1="93.3" x2="650" y2="94.8" stroke="#111" stroke-width="1.0"/>
<polygon points="589,92.6 660,81.4 660,96.2 650,95.4" fill="#1a1a1a" stroke="none" stroke-width="1"/>
<path d="M612 91.6 L657 86.2 M625 92.8 L657 89.6 M640 94 L657 92.6" stroke="#fff" stroke-width="0.6" opacity="0.45" fill="none"/>
<path d="M547.5 100.8 L554.5 96.3 L647 97.3 Q651 97.7 652.5 101" stroke="#111" stroke-width="0.9" fill="none" />
<line x1="555" y1="98.3" x2="648" y2="99" stroke="#111" stroke-width="0.7"/>
<path d="M551 128.6 Q600 125.5 645 126.8 L660 126.2" stroke="#111" stroke-width="1.0" fill="none" />
<path d="M551 129.4 Q600 131 640 130.2" stroke="#111" stroke-width="0.8" fill="none" />
<polygon points="636,129.3 656,126.6 660,127 660,131.5 645,131" fill="#222" stroke="none" stroke-width="1"/>
<line x1="660" y1="81.4" x2="788" y2="89.6" stroke="#111" stroke-width="1.3"/>
<polygon points="668,82 788,89.8 788,98.5 760,96 700,93.2 668,92" fill="#1c1c1c" stroke="none" stroke-width="1"/>
<path d="M672 85.5 L786 93 M672 88.5 L786 95.5" stroke="#fff" stroke-width="0.6" opacity="0.4" fill="none"/>
<line x1="660" y1="126.4" x2="788" y2="126.4" stroke="#111" stroke-width="0.9"/>
<line x1="660" y1="128.4" x2="788" y2="128.4" stroke="#111" stroke-width="0.8"/>
<path d="M787.4 168 L787.4 92 Q787.6 89.3 790 89.3 L797 89.6 Q799 90 799.4 93 L799.4 168" stroke="#111" stroke-width="1.0" fill="none" />
<line x1="789.3" y1="92" x2="789.3" y2="168" stroke="#111" stroke-width="0.8"/>
<line x1="796.8" y1="93" x2="796.8" y2="168" stroke="#111" stroke-width="0.8"/>
<line x1="802.7" y1="104" x2="802.7" y2="168" stroke="#111" stroke-width="0.8"/>
<rect x="792.5" y="108" width="4" height="10" rx="2" transform="rotate(-40 794.5 113)" stroke="#111" stroke-width="0.9" fill="none"/>
<path d="M799.4 98.4 L845 101.5 Q862 104 866 123 L866.3 168" stroke="#111" stroke-width="1.2" fill="none" />
<polygon points="799.4,98.2 845,101.4 855,103.3 862,110 865.8,120 866.3,130 862.3,131 859,119 851.5,110.2 845,108 800,104.6" fill="#141414" stroke="none" stroke-width="1"/>
<line x1="803.6" y1="111.1" x2="845.7" y2="110.3" stroke="#111" stroke-width="0.9"/>
<line x1="803.6" y1="122.1" x2="844.8" y2="112.8" stroke="#111" stroke-width="0.9"/>
<path d="M804.4 130.5 L852.4 119.6 Q859 121 859.1 130 L859.1 168" stroke="#111" stroke-width="0.9" fill="none" />
<line x1="844.8" y1="110.3" x2="852.4" y2="119.6" stroke="#111" stroke-width="0.8"/>
<line x1="864.2" y1="128" x2="864.2" y2="168" stroke="#111" stroke-width="0.8"/>
<line x1="865.2" y1="122" x2="865.2" y2="168" stroke="#111" stroke-width="2.4"/>
<g transform="translate(0,336.0) scale(1,-1)">
<path d="M524.4 168 L524.4 106.2 L544.5 99.6" stroke="#111" stroke-width="1.2" fill="none" />
<path d="M544.5 99.6 L552.5 93.3 L589 92.6 L660 81.4" stroke="#111" stroke-width="1.2" fill="none" />
<line x1="552.5" y1="93.3" x2="650" y2="94.8" stroke="#111" stroke-width="1.0"/>
<polygon points="589,92.6 660,81.4 660,96.2 650,95.4" fill="#1a1a1a" stroke="none" stroke-width="1"/>
<path d="M612 91.6 L657 86.2 M625 92.8 L657 89.6 M640 94 L657 92.6" stroke="#fff" stroke-width="0.6" opacity="0.45" fill="none"/>
<path d="M547.5 100.8 L554.5 96.3 L647 97.3 Q651 97.7 652.5 101" stroke="#111" stroke-width="0.9" fill="none" />
<line x1="555" y1="98.3" x2="648" y2="99" stroke="#111" stroke-width="0.7"/>
<path d="M551 128.6 Q600 125.5 645 126.8 L660 126.2" stroke="#111" stroke-width="1.0" fill="none" />
<path d="M551 129.4 Q600 131 640 130.2" stroke="#111" stroke-width="0.8" fill="none" />
<polygon points="636,129.3 656,126.6 660,127 660,131.5 645,131" fill="#222" stroke="none" stroke-width="1"/>
<line x1="660" y1="81.4" x2="788" y2="89.6" stroke="#111" stroke-width="1.3"/>
<polygon points="668,82 788,89.8 788,98.5 760,96 700,93.2 668,92" fill="#1c1c1c" stroke="none" stroke-width="1"/>
<path d="M672 85.5 L786 93 M672 88.5 L786 95.5" stroke="#fff" stroke-width="0.6" opacity="0.4" fill="none"/>
<line x1="660" y1="126.4" x2="788" y2="126.4" stroke="#111" stroke-width="0.9"/>
<line x1="660" y1="128.4" x2="788" y2="128.4" stroke="#111" stroke-width="0.8"/>
<path d="M787.4 168 L787.4 92 Q787.6 89.3 790 89.3 L797 89.6 Q799 90 799.4 93 L799.4 168" stroke="#111" stroke-width="1.0" fill="none" />
<line x1="789.3" y1="92" x2="789.3" y2="168" stroke="#111" stroke-width="0.8"/>
<line x1="796.8" y1="93" x2="796.8" y2="168" stroke="#111" stroke-width="0.8"/>
<line x1="802.7" y1="104" x2="802.7" y2="168" stroke="#111" stroke-width="0.8"/>
<rect x="792.5" y="108" width="4" height="10" rx="2" transform="rotate(-40 794.5 113)" stroke="#111" stroke-width="0.9" fill="none"/>
<path d="M799.4 98.4 L845 101.5 Q862 104 866 123 L866.3 168" stroke="#111" stroke-width="1.2" fill="none" />
<polygon points="799.4,98.2 845,101.4 855,103.3 862,110 865.8,120 866.3,130 862.3,131 859,119 851.5,110.2 845,108 800,104.6" fill="#141414" stroke="none" stroke-width="1"/>
<line x1="803.6" y1="111.1" x2="845.7" y2="110.3" stroke="#111" stroke-width="0.9"/>
<line x1="803.6" y1="122.1" x2="844.8" y2="112.8" stroke="#111" stroke-width="0.9"/>
<path d="M804.4 130.5 L852.4 119.6 Q859 121 859.1 130 L859.1 168" stroke="#111" stroke-width="0.9" fill="none" />
<line x1="844.8" y1="110.3" x2="852.4" y2="119.6" stroke="#111" stroke-width="0.8"/>
<line x1="864.2" y1="128" x2="864.2" y2="168" stroke="#111" stroke-width="0.8"/>
<line x1="865.2" y1="122" x2="865.2" y2="168" stroke="#111" stroke-width="2.4"/>
</g>
<line x1="544.5" y1="99.6" x2="544.5" y2="236.4" stroke="#111" stroke-width="1.1"/>
<line x1="547.8" y1="97" x2="547.8" y2="239" stroke="#111" stroke-width="0.9"/>
<line x1="551.2" y1="95" x2="551.2" y2="241" stroke="#111" stroke-width="0.9"/>
<line x1="648" y1="97" x2="648" y2="239" stroke="#111" stroke-width="0.8"/>
<line x1="652.2" y1="98" x2="652.2" y2="238" stroke="#111" stroke-width="0.8"/>
<line x1="655.6" y1="96" x2="655.6" y2="240" stroke="#111" stroke-width="0.8"/>
<line x1="660" y1="81.4" x2="660" y2="254.6" stroke="#111" stroke-width="1.6"/>
<line x1="661.8" y1="82" x2="661.8" y2="254" stroke="#111" stroke-width="0.7"/>
<line x1="668.2" y1="82" x2="668.2" y2="254" stroke="#111" stroke-width="0.9"/>
<polygon points="604,136.2 660,135.4 660,137.6 604,136.8" fill="#111" stroke="none" stroke-width="1"/>
<polygon points="600,144.1 660,143.3 660,145.5 600,144.7" fill="#111" stroke="none" stroke-width="1"/>
<polygon points="597.5,152 660,151.2 660,153.4 597.5,152.6" fill="#111" stroke="none" stroke-width="1"/>
<polygon points="595.8,159.9 660,159.1 660,161.3 595.8,160.5" fill="#111" stroke="none" stroke-width="1"/>
<polygon points="595,167.8 660,167 660,169.2 595,168.4" fill="#111" stroke="none" stroke-width="1"/>
<polygon points="595.8,175.7 660,174.9 660,177.1 595.8,176.3" fill="#111" stroke="none" stroke-width="1"/>
<polygon points="597.5,183.6 660,182.8 660,185 597.5,184.2" fill="#111" stroke="none" stroke-width="1"/>
<polygon points="600,191.5 660,190.7 660,192.9 600,192.1" fill="#111" stroke="none" stroke-width="1"/>
<polygon points="604,199.4 660,198.6 660,200.8 604,200" fill="#111" stroke="none" stroke-width="1"/>
<path d="M668.5 82 L668.5 122 Q668.5 124 670.5 124 L748 124 Q750.2 124 750.2 122 L750.2 84.5" stroke="#111" stroke-width="2.0" fill="none" />
<line x1="670.5" y1="84" x2="670.5" y2="96" stroke="#111" stroke-width="0.8"/>
<line x1="741.8" y1="88" x2="741.8" y2="96" stroke="#111" stroke-width="0.8"/>
<path d="M681.4 123.5 L681.4 114.5 Q681.4 111 685 111 Q688.6 111 688.6 114.5 L688.6 123.5" stroke="#111" stroke-width="1.1" fill="none" />
<path d="M732.3 123.5 L732.3 114.5 Q732.3 111 735.9 111 Q739.5 111 739.5 114.5 L739.5 123.5" stroke="#111" stroke-width="1.1" fill="none" />
<polygon points="671,91 678,92.3 678,93.6 671,93.2" fill="#111" stroke="none" stroke-width="1"/>
<polygon points="743,95 749,95.4 749,96.8 743,96.5" fill="#111" stroke="none" stroke-width="1"/>
<line x1="750" y1="136.8" x2="787.4" y2="136.8" stroke="#111" stroke-width="1.3"/>
<line x1="750" y1="140.9" x2="787.4" y2="140.9" stroke="#111" stroke-width="0.8"/>
<line x1="750" y1="145" x2="787.4" y2="145" stroke="#111" stroke-width="1.3"/>
<line x1="750" y1="149.1" x2="787.4" y2="149.1" stroke="#111" stroke-width="0.8"/>
<line x1="750" y1="153.2" x2="787.4" y2="153.2" stroke="#111" stroke-width="1.3"/>
<line x1="750" y1="157.3" x2="787.4" y2="157.3" stroke="#111" stroke-width="0.8"/>
<line x1="750" y1="161.4" x2="787.4" y2="161.4" stroke="#111" stroke-width="1.3"/>
<line x1="750" y1="165.5" x2="787.4" y2="165.5" stroke="#111" stroke-width="0.8"/>
<line x1="750" y1="169.6" x2="787.4" y2="169.6" stroke="#111" stroke-width="1.3"/>
<line x1="750" y1="173.7" x2="787.4" y2="173.7" stroke="#111" stroke-width="0.8"/>
<line x1="750" y1="177.8" x2="787.4" y2="177.8" stroke="#111" stroke-width="1.3"/>
<line x1="750" y1="181.9" x2="787.4" y2="181.9" stroke="#111" stroke-width="0.8"/>
<line x1="750" y1="186" x2="787.4" y2="186" stroke="#111" stroke-width="1.3"/>
<line x1="750" y1="190.1" x2="787.4" y2="190.1" stroke="#111" stroke-width="0.8"/>
<line x1="750" y1="194.2" x2="787.4" y2="194.2" stroke="#111" stroke-width="1.3"/>
<line x1="750" y1="198.3" x2="787.4" y2="198.3" stroke="#111" stroke-width="0.8"/>
<line x1="660" y1="136.5" x2="668" y2="136.5" stroke="#111" stroke-width="1.0"/>
<line x1="660" y1="144.4" x2="668" y2="144.4" stroke="#111" stroke-width="1.0"/>
<line x1="660" y1="152.3" x2="668" y2="152.3" stroke="#111" stroke-width="1.0"/>
<line x1="660" y1="160.2" x2="668" y2="160.2" stroke="#111" stroke-width="1.0"/>
<line x1="660" y1="168.1" x2="668" y2="168.1" stroke="#111" stroke-width="1.0"/>
<line x1="660" y1="176" x2="668" y2="176" stroke="#111" stroke-width="1.0"/>
<line x1="660" y1="183.9" x2="668" y2="183.9" stroke="#111" stroke-width="1.0"/>
<line x1="660" y1="191.8" x2="668" y2="191.8" stroke="#111" stroke-width="1.0"/>
<line x1="660" y1="199.7" x2="668" y2="199.7" stroke="#111" stroke-width="1.0"/>
<path d="M665.6 376 L665.6 148 C665.6 131 686 126.5 707.5 126.5 C729 126.5 750 131 750 148 L750.5 376" stroke="#111" stroke-width="1.3" fill="#fff" />
<path d="M668 376 L668 149 C668 134 688 129 707.5 129 C727 129 747.6 134 747.6 149 L748 376" stroke="#111" stroke-width="0.8" fill="none" />
<path d="M684.4 144.4 Q707.5 140 730.6 144.4" stroke="#111" stroke-width="0.9" fill="none" />
<path d="M684.4 144.4 Q688 150 688.5 160 L687.5 334 " stroke="#111" stroke-width="1.0" fill="none" />
<path d="M684.4 144.4 Q691 150 692.3 160 L690 334" stroke="#111" stroke-width="0.9" fill="none" />
<path d="M730.6 144.4 Q727 150 726.5 160 L727.5 334" stroke="#111" stroke-width="1.0" fill="none" />
<path d="M730.6 144.4 Q724 150 722.7 160 L725 334" stroke="#111" stroke-width="0.9" fill="none" />
<line x1="688" y1="334.6" x2="727" y2="334.6" stroke="#111" stroke-width="1.0"/>
<path d="M666.5 342 Q678 347 687 347.4 L688 334.6" stroke="#111" stroke-width="1.0" fill="none" />
<path d="M748.5 342 Q737 347 728 347.4 L727 334.6" stroke="#111" stroke-width="1.0" fill="none" />
<line x1="665.6" y1="347.5" x2="750" y2="347.5" stroke="#555" stroke-width="0.6"/>
<ellipse cx="707.7" cy="300.5" rx="13.6" ry="25" stroke="#111" stroke-width="1.3" fill="none"/>
<polygon points="698.3,288 708.5,286.5 708.8,289 698.3,292" fill="#111" stroke="none" stroke-width="1"/>
<path d="M705 279.5 Q712 284 711.5 293 L711.5 303" stroke="#111" stroke-width="1.1" fill="none" />
<rect x="703.5" y="294.5" width="6" height="8" rx="0" stroke="#111" stroke-width="1.0" fill="#555"/>
<circle cx="706.5" cy="308.2" r="2.6" stroke="#111" stroke-width="1.2" fill="none"/>
<line x1="709" y1="308" x2="717" y2="308" stroke="#111" stroke-width="2.2"/>
<rect x="703.5" y="312.5" width="7" height="9.5" rx="0" stroke="#111" stroke-width="1.1" fill="none"/>
<line x1="703.5" y1="317" x2="710.5" y2="317" stroke="#111" stroke-width="1.0"/>
<line x1="707" y1="312.5" x2="707" y2="322" stroke="#111" stroke-width="1.0"/>
<rect x="750.5" y="367.3" width="16.9" height="3.9" rx="0" stroke="#111" stroke-width="0.9" fill="none"/>
<line x1="666" y1="373.8" x2="750" y2="373.8" stroke="#111" stroke-width="1.0"/>
<rect x="667.7" y="378.4" width="80.3" height="3" rx="0" stroke="#111" stroke-width="0.8" fill="#bbb"/>
<line x1="663.5" y1="376.2" x2="752" y2="376.2" stroke="#111" stroke-width="1.1"/>
<path d="M598.7 383.6 L596.2 383.6 Q590 384.5 588.7 389.8 Q586.3 400 586.2 420 L585.6 435.3 Q586.5 444 591.8 445.9 L598.7 447.2" stroke="#111" stroke-width="1.2" fill="none" />
<line x1="595" y1="389.2" x2="589.3" y2="432.8" stroke="#111" stroke-width="0.8"/>
<line x1="596.6" y1="389.6" x2="596.4" y2="432.4" stroke="#111" stroke-width="0.9"/>
<line x1="588.5" y1="389.8" x2="598.7" y2="389.8" stroke="#111" stroke-width="0.9"/>
<line x1="587" y1="432.4" x2="598.7" y2="432.4" stroke="#111" stroke-width="0.9"/>
<path d="M588.5 391 Q590 388.5 594 388.6" stroke="#111" stroke-width="1.6" fill="none" />
<path d="M586.8 434 Q588 441 595 443.5" stroke="#111" stroke-width="1.6" fill="none" />
<line x1="598.7" y1="383.6" x2="598.7" y2="447" stroke="#111" stroke-width="1.4"/>
<g transform="translate(1414.8,0) scale(-1,1)">
<path d="M598.7 383.6 L596.2 383.6 Q590 384.5 588.7 389.8 Q586.3 400 586.2 420 L585.6 435.3 Q586.5 444 591.8 445.9 L598.7 447.2" stroke="#111" stroke-width="1.2" fill="none" />
<line x1="595" y1="389.2" x2="589.3" y2="432.8" stroke="#111" stroke-width="0.8"/>
<line x1="596.6" y1="389.6" x2="596.4" y2="432.4" stroke="#111" stroke-width="0.9"/>
<line x1="588.5" y1="389.8" x2="598.7" y2="389.8" stroke="#111" stroke-width="0.9"/>
<line x1="587" y1="432.4" x2="598.7" y2="432.4" stroke="#111" stroke-width="0.9"/>
<path d="M588.5 391 Q590 388.5 594 388.6" stroke="#111" stroke-width="1.6" fill="none" />
<path d="M586.8 434 Q588 441 595 443.5" stroke="#111" stroke-width="1.6" fill="none" />
<line x1="598.7" y1="383.6" x2="598.7" y2="447" stroke="#111" stroke-width="1.4"/>
</g>
<line x1="598.7" y1="383.7" x2="816.1" y2="383.7" stroke="#111" stroke-width="1.1"/>
<line x1="598.7" y1="447.2" x2="816.1" y2="447.2" stroke="#111" stroke-width="1.1"/>
<rect x="598.7" y="384" width="217.4" height="5.8" rx="0" stroke="#111" stroke-width="0" fill="#111"/>
<rect x="704.5" y="385.4" width="6.1" height="3.6" rx="0" stroke="#111" stroke-width="0" fill="#fff"/>
<line x1="597.8" y1="391.6" x2="817.5" y2="391.6" stroke="#111" stroke-width="0.9"/>
<line x1="597.8" y1="432.3" x2="817.5" y2="432.3" stroke="#111" stroke-width="1.0"/>
<line x1="597.8" y1="435.6" x2="817.5" y2="435.6" stroke="#111" stroke-width="1.6"/>
<rect x="598.2" y="441.4" width="218.8" height="5.4" rx="0" stroke="#111" stroke-width="0" fill="#151515"/>
<rect x="604" y="441.8" width="21.5" height="4.6" rx="0" stroke="#111" stroke-width="0.8" fill="#fff"/>
<rect x="789.2" y="441.8" width="22.8" height="4.6" rx="0" stroke="#111" stroke-width="0.8" fill="#fff"/>
<rect x="704.8" y="437" width="6" height="10" rx="0" stroke="#111" stroke-width="0" fill="#fff"/>
<line x1="704.8" y1="437" x2="704.8" y2="447" stroke="#111" stroke-width="0.8"/>
<line x1="710.8" y1="437" x2="710.8" y2="447" stroke="#111" stroke-width="0.8"/>
<line x1="625" y1="448.7" x2="790" y2="448.7" stroke="#777" stroke-width="0.8"/>
<path d="M605.4 447 L607.9 459.6 L621.8 459.6 L624.3 447" stroke="#111" stroke-width="1.1" fill="none" />
<path d="M791 447 L793.5 459.6 L807.5 459.6 L810 447" stroke="#111" stroke-width="1.1" fill="none" />
<path d="M627.6 392.5 L627.6 426 Q627.6 430.6 632 430.6 L783 430.6 Q787.2 430.6 787.2 426 L787.2 392.5" stroke="#111" stroke-width="1.1" fill="none" />
<path d="M630 392.5 L631.5 400 Q633.5 405 640 405.5 L661 405.5 L661 392.5" stroke="#111" stroke-width="0.9" fill="none" />
<path d="M785 392.5 L783.5 400 Q781.5 405 775 405.5 L754.3 405.5 L754.3 392.5" stroke="#111" stroke-width="0.9" fill="none" />
<path d="M661 405.5 Q661 411.7 666 411.7 L749 411.7 Q754.3 411.7 754.3 405.5" stroke="#111" stroke-width="1.0" fill="none" />
<line x1="663" y1="392.5" x2="663" y2="410" stroke="#111" stroke-width="0.8"/>
<line x1="752.3" y1="392.5" x2="752.3" y2="410" stroke="#111" stroke-width="0.8"/>
<line x1="661" y1="428.7" x2="754.3" y2="428.7" stroke="#111" stroke-width="0.8"/>
<circle cx="641.5" cy="418" r="6.8" stroke="#111" stroke-width="1.2" fill="none"/>
<circle cx="641.5" cy="418" r="3" stroke="#111" stroke-width="1.0" fill="none"/>
<circle cx="774" cy="418" r="6.8" stroke="#111" stroke-width="1.2" fill="none"/>
<circle cx="774" cy="418" r="3" stroke="#111" stroke-width="1.0" fill="none"/>
<rect x="828.8" y="405.4" width="7.6" height="13.8" rx="1.5" stroke="#111" stroke-width="1.0" fill="none"/>
<rect x="836.4" y="408.4" width="26" height="7.8" rx="0" stroke="#111" stroke-width="1.0" fill="none"/>
<line x1="830.5" y1="406" x2="830.5" y2="418.6" stroke="#111" stroke-width="0.7"/>
<line x1="834.5" y1="406" x2="834.5" y2="418.6" stroke="#111" stroke-width="0.7"/>
<line x1="644" y1="447.8" x2="648" y2="447.8" stroke="#111" stroke-width="1.0"/>
<line x1="678" y1="447.8" x2="682" y2="447.8" stroke="#111" stroke-width="1.0"/>
<line x1="733" y1="447.8" x2="737" y2="447.8" stroke="#111" stroke-width="1.0"/>
<line x1="768" y1="447.8" x2="772" y2="447.8" stroke="#111" stroke-width="1.0"/>
<g transform="translate(876.150,46) scale(1.012)">
<path d="M107.4 123 L91.5 146" stroke="#111" stroke-width="1.0" fill="none" />
<path d="M91.5 146 Q87.5 152 86.6 175 L85.8 250 L84.6 330 Q84.3 341 87.5 348 L101.5 377.8" stroke="#111" stroke-width="1.2" fill="none" />
<path d="M93.4 144.5 Q90.1 153 89.3 175 L88.5 250 L87.5 328 Q87.3 339 90.2 345.5" stroke="#1a1a1a" stroke-width="2.9" fill="none" />
<path d="M90 345.5 L103.5 376.5" stroke="#222" stroke-width="1.3" fill="none" />
<path d="M93.5 140 L97 134 L100 137 L96.5 143 Z" fill="#333" stroke="#111" stroke-width="0.6"/>
<path d="M85.5 337 Q93 339.5 98.3 346" stroke="#111" stroke-width="0.9" fill="none" />
<path d="M107.4 123 L122.6 123 L122.6 312.8" stroke="#111" stroke-width="1.2" fill="none" />
<path d="M109.6 124.5 Q113.5 131 112 140 Q109 146 108.6 149" stroke="#111" stroke-width="0.9" fill="none" />
<path d="M108.4 148.5 Q101.5 160 100.6 175 L98.3 347.8 L106 377.5" stroke="#111" stroke-width="0.9" fill="none" />
<path d="M110.6 150.4 Q105 162 104.3 180 L103.7 312.8 L122.6 312.8" stroke="#111" stroke-width="0.9" fill="none" />
<path d="M97 131 Q94 137 92.5 140" stroke="#111" stroke-width="0.9" fill="none" />
<circle cx="114.8" cy="156.4" r="2.7" stroke="#111" stroke-width="1.1" fill="none"/>
<circle cx="114.8" cy="156.4" r="1.22" stroke="#111" stroke-width="0.8" fill="none"/>
<rect x="122.6" y="145.5" width="3.4" height="43" rx="0" stroke="#111" stroke-width="1.0" fill="none"/>
<rect x="126" y="153.5" width="5" height="26.5" rx="0" stroke="#111" stroke-width="1.0" fill="none"/>
<line x1="122.6" y1="312.8" x2="152.2" y2="362.6" stroke="#111" stroke-width="1.0"/>
<line x1="152.2" y1="362.6" x2="152.2" y2="378.8" stroke="#111" stroke-width="1.0"/>
<line x1="103.7" y1="362.6" x2="152.2" y2="362.6" stroke="#111" stroke-width="1.0"/>
<path d="M122.6 290.5 Q128 293 131 298.5 Q135 304.5 140 304.8 Q146 306 150 313 L165 336 Q169.5 343.8 176 343.8 L237.5 343.8" stroke="#111" stroke-width="2.5" fill="none" />
<path d="M122.6 290.5 Q128 293 131 298.5 Q135 304.5 140 304.8 Q146 306 150 313 L165 336 Q169.5 343.8 176 343.8 L237.5 343.8" stroke="#fff" stroke-width="0.8" fill="none" />
<circle cx="136" cy="323" r="2.9" stroke="#111" stroke-width="1.1" fill="none"/>
<circle cx="136" cy="323" r="1.3" stroke="#111" stroke-width="0.8" fill="none"/>
<circle cx="126" cy="346" r="2.9" stroke="#111" stroke-width="1.1" fill="none"/>
<circle cx="126" cy="346" r="1.3" stroke="#111" stroke-width="0.8" fill="none"/>
<line x1="101.5" y1="378.8" x2="237.5" y2="378.8" stroke="#111" stroke-width="1.4"/>
<g transform="translate(475.0,0) scale(-1,1)">
<path d="M107.4 123 L91.5 146" stroke="#111" stroke-width="1.0" fill="none" />
<path d="M91.5 146 Q87.5 152 86.6 175 L85.8 250 L84.6 330 Q84.3 341 87.5 348 L101.5 377.8" stroke="#111" stroke-width="1.2" fill="none" />
<path d="M93.4 144.5 Q90.1 153 89.3 175 L88.5 250 L87.5 328 Q87.3 339 90.2 345.5" stroke="#1a1a1a" stroke-width="2.9" fill="none" />
<path d="M90 345.5 L103.5 376.5" stroke="#222" stroke-width="1.3" fill="none" />
<path d="M93.5 140 L97 134 L100 137 L96.5 143 Z" fill="#333" stroke="#111" stroke-width="0.6"/>
<path d="M85.5 337 Q93 339.5 98.3 346" stroke="#111" stroke-width="0.9" fill="none" />
<path d="M107.4 123 L122.6 123 L122.6 312.8" stroke="#111" stroke-width="1.2" fill="none" />
<path d="M109.6 124.5 Q113.5 131 112 140 Q109 146 108.6 149" stroke="#111" stroke-width="0.9" fill="none" />
<path d="M108.4 148.5 Q101.5 160 100.6 175 L98.3 347.8 L106 377.5" stroke="#111" stroke-width="0.9" fill="none" />
<path d="M110.6 150.4 Q105 162 104.3 180 L103.7 312.8 L122.6 312.8" stroke="#111" stroke-width="0.9" fill="none" />
<path d="M97 131 Q94 137 92.5 140" stroke="#111" stroke-width="0.9" fill="none" />
<circle cx="114.8" cy="156.4" r="2.7" stroke="#111" stroke-width="1.1" fill="none"/>
<circle cx="114.8" cy="156.4" r="1.22" stroke="#111" stroke-width="0.8" fill="none"/>
<rect x="122.6" y="145.5" width="3.4" height="43" rx="0" stroke="#111" stroke-width="1.0" fill="none"/>
<rect x="126" y="153.5" width="5" height="26.5" rx="0" stroke="#111" stroke-width="1.0" fill="none"/>
<line x1="122.6" y1="312.8" x2="152.2" y2="362.6" stroke="#111" stroke-width="1.0"/>
<line x1="152.2" y1="362.6" x2="152.2" y2="378.8" stroke="#111" stroke-width="1.0"/>
<line x1="103.7" y1="362.6" x2="152.2" y2="362.6" stroke="#111" stroke-width="1.0"/>
<path d="M122.6 290.5 Q128 293 131 298.5 Q135 304.5 140 304.8 Q146 306 150 313 L165 336 Q169.5 343.8 176 343.8 L237.5 343.8" stroke="#111" stroke-width="2.5" fill="none" />
<path d="M122.6 290.5 Q128 293 131 298.5 Q135 304.5 140 304.8 Q146 306 150 313 L165 336 Q169.5 343.8 176 343.8 L237.5 343.8" stroke="#fff" stroke-width="0.8" fill="none" />
<circle cx="136" cy="323" r="2.9" stroke="#111" stroke-width="1.1" fill="none"/>
<circle cx="136" cy="323" r="1.3" stroke="#111" stroke-width="0.8" fill="none"/>
<circle cx="126" cy="346" r="2.9" stroke="#111" stroke-width="1.1" fill="none"/>
<circle cx="126" cy="346" r="1.3" stroke="#111" stroke-width="0.8" fill="none"/>
<line x1="101.5" y1="378.8" x2="237.5" y2="378.8" stroke="#111" stroke-width="1.4"/>
</g>
<circle cx="237.5" cy="359.4" r="2.9" stroke="#111" stroke-width="1.1" fill="none"/>
<circle cx="237.5" cy="359.4" r="1.3" stroke="#111" stroke-width="0.8" fill="none"/>
<path d="M115.5 396 L81.5 412.5 Q79.8 414 79.8 417 L79.8 431 Q80 434 83 434 L116.3 434" stroke="#111" stroke-width="1.1" fill="none" />
<line x1="82.5" y1="413.5" x2="82.5" y2="433" stroke="#111" stroke-width="1.6"/>
<path d="M115.5 399.5 L92 411 Q89.5 412.5 89.5 415 L89.5 433.5" stroke="#111" stroke-width="0.8" fill="none" />
<path d="M81 415 Q83.5 420 81 430" stroke="#555" stroke-width="1.6" fill="none" />
<path d="M237.5 383.6 L198 386.2 L122 390.2 Q116.3 391.5 116.3 397 L116.3 437 Q116.5 442 121 443.5 L159 449.2 L237.5 449.2" stroke="#111" stroke-width="1.2" fill="none" />
<line x1="119.5" y1="395" x2="119.5" y2="440" stroke="#111" stroke-width="0.8"/>
<path d="M130.6 448.4 L133 463.4 L147.4 463.4 L149.4 449" stroke="#111" stroke-width="1.1" fill="none" />
<path d="M237.5 389 L165 389.5 Q158 390 157.6 398 L157.4 440 Q157.5 447 165 447.5 L237.5 447.5" stroke="#111" stroke-width="1.0" fill="none" />
<path d="M237.5 391.4 L166 391.8 Q160.5 392.3 160.3 398 L160.3 440" stroke="#111" stroke-width="0.8" fill="none" />
<circle cx="121.3" cy="395.3" r="2.8" stroke="#111" stroke-width="1.2" fill="none"/>
<circle cx="121.3" cy="395.3" r="1.26" stroke="#111" stroke-width="0.8" fill="none"/>
<circle cx="121.3" cy="440.7" r="2.8" stroke="#111" stroke-width="1.2" fill="none"/>
<circle cx="121.3" cy="440.7" r="1.26" stroke="#111" stroke-width="0.8" fill="none"/>
<circle cx="200.1" cy="388.2" r="2.5" stroke="#111" stroke-width="1.1" fill="none"/>
<circle cx="200.1" cy="388.2" r="1.12" stroke="#111" stroke-width="0.8" fill="none"/>
<circle cx="200.1" cy="444.4" r="2.8" stroke="#111" stroke-width="1.2" fill="none"/>
<circle cx="200.1" cy="444.4" r="1.26" stroke="#111" stroke-width="0.8" fill="none"/>
<circle cx="131.5" cy="442.5" r="0.9" stroke="#111" stroke-width="0" fill="#111"/>
<g transform="translate(475.0,0) scale(-1,1)">
<path d="M115.5 396 L81.5 412.5 Q79.8 414 79.8 417 L79.8 431 Q80 434 83 434 L116.3 434" stroke="#111" stroke-width="1.1" fill="none" />
<line x1="82.5" y1="413.5" x2="82.5" y2="433" stroke="#111" stroke-width="1.6"/>
<path d="M115.5 399.5 L92 411 Q89.5 412.5 89.5 415 L89.5 433.5" stroke="#111" stroke-width="0.8" fill="none" />
<path d="M81 415 Q83.5 420 81 430" stroke="#555" stroke-width="1.6" fill="none" />
<path d="M237.5 383.6 L198 386.2 L122 390.2 Q116.3 391.5 116.3 397 L116.3 437 Q116.5 442 121 443.5 L159 449.2 L237.5 449.2" stroke="#111" stroke-width="1.2" fill="none" />
<line x1="119.5" y1="395" x2="119.5" y2="440" stroke="#111" stroke-width="0.8"/>
<path d="M130.6 448.4 L133 463.4 L147.4 463.4 L149.4 449" stroke="#111" stroke-width="1.1" fill="none" />
<path d="M237.5 389 L165 389.5 Q158 390 157.6 398 L157.4 440 Q157.5 447 165 447.5 L237.5 447.5" stroke="#111" stroke-width="1.0" fill="none" />
<path d="M237.5 391.4 L166 391.8 Q160.5 392.3 160.3 398 L160.3 440" stroke="#111" stroke-width="0.8" fill="none" />
<circle cx="121.3" cy="395.3" r="2.8" stroke="#111" stroke-width="1.2" fill="none"/>
<circle cx="121.3" cy="395.3" r="1.26" stroke="#111" stroke-width="0.8" fill="none"/>
<circle cx="121.3" cy="440.7" r="2.8" stroke="#111" stroke-width="1.2" fill="none"/>
<circle cx="121.3" cy="440.7" r="1.26" stroke="#111" stroke-width="0.8" fill="none"/>
<circle cx="200.1" cy="388.2" r="2.5" stroke="#111" stroke-width="1.1" fill="none"/>
<circle cx="200.1" cy="388.2" r="1.12" stroke="#111" stroke-width="0.8" fill="none"/>
<circle cx="200.1" cy="444.4" r="2.8" stroke="#111" stroke-width="1.2" fill="none"/>
<circle cx="200.1" cy="444.4" r="1.26" stroke="#111" stroke-width="0.8" fill="none"/>
<circle cx="131.5" cy="442.5" r="0.9" stroke="#111" stroke-width="0" fill="#111"/>
</g>
<line x1="200" y1="451" x2="278" y2="451" stroke="#111" stroke-width="1.6"/>
</g>
<rect x="1076" y="432.4" width="80" height="2.4" rx="0" stroke="#111" stroke-width="0.8" fill="#777"/>
<rect x="1113" y="431.9" width="7" height="3.4" rx="0" stroke="#111" stroke-width="0.7" fill="#ddd"/>
<path d="M1153.6 429.6 L1153.6 421 L1198.5 421 L1198.5 429.6" stroke="#111" stroke-width="1.0" fill="none" />
<rect x="1156" y="421.5" width="2.6" height="2.6" rx="0" stroke="#111" stroke-width="0.6" fill="none"/>
<rect x="1160" y="421.5" width="2.6" height="2.6" rx="0" stroke="#111" stroke-width="0.6" fill="none"/>
<rect x="1164" y="421.5" width="2.6" height="2.6" rx="0" stroke="#111" stroke-width="0.6" fill="none"/>
<rect x="1168" y="421.5" width="2.6" height="2.6" rx="0" stroke="#111" stroke-width="0.6" fill="none"/>
<rect x="1172" y="421.5" width="2.6" height="2.6" rx="0" stroke="#111" stroke-width="0.6" fill="none"/>
<rect x="1176" y="421.5" width="2.6" height="2.6" rx="0" stroke="#111" stroke-width="0.6" fill="none"/>
<rect x="1180" y="421.5" width="2.6" height="2.6" rx="0" stroke="#111" stroke-width="0.6" fill="none"/>
<rect x="1184" y="421.5" width="2.6" height="2.6" rx="0" stroke="#111" stroke-width="0.6" fill="none"/>
<rect x="1188" y="421.5" width="2.6" height="2.6" rx="0" stroke="#111" stroke-width="0.6" fill="none"/>
<rect x="1192" y="421.5" width="2.6" height="2.6" rx="0" stroke="#111" stroke-width="0.6" fill="none"/>
<rect x="1196" y="421.5" width="2.6" height="2.6" rx="0" stroke="#111" stroke-width="0.6" fill="none"/>
<path d="M1150 421 Q1150 424 1153.6 424" stroke="#111" stroke-width="0.8" fill="none" />
<path d="M1202 421 Q1202 426 1198.5 427" stroke="#111" stroke-width="0.8" fill="none" />
<rect x="1043.6" y="448.2" width="145.1" height="38.3" rx="4.5" stroke="#111" stroke-width="2.0" fill="none"/>
<circle cx="1075.2" cy="467.2" r="5.6" stroke="#111" stroke-width="1.2" fill="none"/>
<polygon points="1110.5,466.9 1106.4,474 1098.2,474 1094.1,466.9 1098.2,459.8 1106.4,459.8" fill="none" stroke="#111" stroke-width="1.2"/>
<circle cx="1102.3" cy="466.9" r="4.3" stroke="#111" stroke-width="1.1" fill="none"/>
<polygon points="1137.8,466.9 1134,473.48 1126.4,473.48 1122.6,466.9 1126.4,460.32 1134,460.32" fill="none" stroke="#111" stroke-width="1.2"/>
<circle cx="1130.2" cy="466.9" r="4" stroke="#111" stroke-width="1.1" fill="none"/>
<polygon points="1166.8,466.9 1162.1,475.04 1152.7,475.04 1148,466.9 1152.7,458.76 1162.1,458.76" fill="none" stroke="#111" stroke-width="1.2"/>
<circle cx="1157.4" cy="466.9" r="5" stroke="#111" stroke-width="1.1" fill="none"/>
<line x1="1052.8" y1="25.6" x2="1045.2" y2="46.2" stroke="#111" stroke-width="1.1"/>
<path d="M1045.2 46.2 L1038.3 52.3 Q1011 110 1010.3 164.5" stroke="#111" stroke-width="1.1" fill="none" />
<path d="M1056.6 46.2 L1043 56.5 Q1017 112 1015.5 160" stroke="#111" stroke-width="0.9" fill="none" />
<line x1="1038" y1="54.2" x2="1085" y2="54.2" stroke="#111" stroke-width="0.9"/>
<path d="M1020 98 Q1014.5 125 1012 162" stroke="#111" stroke-width="3.0" fill="none" />
<path d="M1084.5 55.4 Q1064 62 1053.8 85 Q1044 105 1040.4 130.7 L1037.4 165 L1037.4 300" stroke="#111" stroke-width="1.0" fill="none" />
<path d="M1086.5 57.2 Q1067 65 1057 87 Q1047.5 108 1043.6 132 L1040.4 165 L1040.4 300" stroke="#111" stroke-width="0.9" fill="none" />
<polygon points="1055.7,164.4 1056.75,114.6 1057.25,114.6 1058.3,164.4" fill="#111" stroke="none" stroke-width="1"/>
<polygon points="1064.1,164.4 1065.15,106.5 1065.65,106.5 1066.7,164.4" fill="#111" stroke="none" stroke-width="1"/>
<polygon points="1072.7,164.4 1073.75,100.6 1074.25,100.6 1075.3,164.4" fill="#111" stroke="none" stroke-width="1"/>
<polygon points="1081.6,164.4 1082.65,97.1 1083.15,97.1 1084.2,164.4" fill="#111" stroke="none" stroke-width="1"/>
<polygon points="1090.2,164.4 1091.25,94.4 1091.75,94.4 1092.8,164.4" fill="#111" stroke="none" stroke-width="1"/>
<polygon points="1098.8,164.4 1099.85,93 1100.35,93 1101.4,164.4" fill="#111" stroke="none" stroke-width="1"/>
<polygon points="1107.7,164.4 1108.75,92.5 1109.25,92.5 1110.3,164.4" fill="#111" stroke="none" stroke-width="1"/>
<line x1="1010.1" y1="164.5" x2="1010.1" y2="300" stroke="#111" stroke-width="1.2"/>
<g transform="translate(2233.0,0) scale(-1,1)">
<line x1="1052.8" y1="25.6" x2="1045.2" y2="46.2" stroke="#111" stroke-width="1.1"/>
<path d="M1045.2 46.2 L1038.3 52.3 Q1011 110 1010.3 164.5" stroke="#111" stroke-width="1.1" fill="none" />
<path d="M1056.6 46.2 L1043 56.5 Q1017 112 1015.5 160" stroke="#111" stroke-width="0.9" fill="none" />
<line x1="1038" y1="54.2" x2="1085" y2="54.2" stroke="#111" stroke-width="0.9"/>
<path d="M1020 98 Q1014.5 125 1012 162" stroke="#111" stroke-width="3.0" fill="none" />
<path d="M1084.5 55.4 Q1064 62 1053.8 85 Q1044 105 1040.4 130.7 L1037.4 165 L1037.4 300" stroke="#111" stroke-width="1.0" fill="none" />
<path d="M1086.5 57.2 Q1067 65 1057 87 Q1047.5 108 1043.6 132 L1040.4 165 L1040.4 300" stroke="#111" stroke-width="0.9" fill="none" />
<polygon points="1055.7,164.4 1056.75,114.6 1057.25,114.6 1058.3,164.4" fill="#111" stroke="none" stroke-width="1"/>
<polygon points="1064.1,164.4 1065.15,106.5 1065.65,106.5 1066.7,164.4" fill="#111" stroke="none" stroke-width="1"/>
<polygon points="1072.7,164.4 1073.75,100.6 1074.25,100.6 1075.3,164.4" fill="#111" stroke="none" stroke-width="1"/>
<polygon points="1081.6,164.4 1082.65,97.1 1083.15,97.1 1084.2,164.4" fill="#111" stroke="none" stroke-width="1"/>
<polygon points="1090.2,164.4 1091.25,94.4 1091.75,94.4 1092.8,164.4" fill="#111" stroke="none" stroke-width="1"/>
<polygon points="1098.8,164.4 1099.85,93 1100.35,93 1101.4,164.4" fill="#111" stroke="none" stroke-width="1"/>
<polygon points="1107.7,164.4 1108.75,92.5 1109.25,92.5 1110.3,164.4" fill="#111" stroke="none" stroke-width="1"/>
<line x1="1010.1" y1="164.5" x2="1010.1" y2="300" stroke="#111" stroke-width="1.2"/>
</g>
<line x1="1052.8" y1="25.7" x2="1180.2" y2="25.7" stroke="#111" stroke-width="1.5"/>
<line x1="1045.2" y1="46.2" x2="1187.8" y2="46.2" stroke="#111" stroke-width="1.2"/>
<line x1="1050" y1="50.4" x2="1183" y2="50.4" stroke="#111" stroke-width="0.9"/>
<path d="M1084.4 50.2 Q1116.5 48.6 1148.6 50.2 L1148.6 56.6 Q1116.5 58.2 1084.4 56.6 Z" stroke="#111" stroke-width="1.0" fill="#fff" />
<circle cx="1116.4" cy="53" r="1.2" stroke="#111" stroke-width="0.9" fill="none"/>
<path d="M1113.3 164 L1113.3 157.5 Q1116.5 151 1119.7 157.5 L1119.7 164" stroke="#111" stroke-width="1.0" fill="none" />
<line x1="1018" y1="152.9" x2="1215" y2="152.9" stroke="#111" stroke-width="0.9"/>
<line x1="1018" y1="158.8" x2="1215" y2="158.8" stroke="#111" stroke-width="0.7"/>
<line x1="1010.1" y1="164.7" x2="1222.9" y2="164.7" stroke="#111" stroke-width="1.6"/>
<rect x="1012.6" y="174.8" width="207.8" height="83.3" rx="2" stroke="#111" stroke-width="2.2" fill="none"/>
<rect x="1043.2" y="185.6" width="3.9" height="62.6" rx="0.8" stroke="#111" stroke-width="1.7" fill="none"/>
<rect x="1050.68" y="185.6" width="3.9" height="62.6" rx="0.8" stroke="#111" stroke-width="1.7" fill="none"/>
<rect x="1058.16" y="185.6" width="3.9" height="62.6" rx="0.8" stroke="#111" stroke-width="1.7" fill="none"/>
<rect x="1065.64" y="185.6" width="3.9" height="62.6" rx="0.8" stroke="#111" stroke-width="1.7" fill="none"/>
<rect x="1073.12" y="185.6" width="3.9" height="62.6" rx="0.8" stroke="#111" stroke-width="1.7" fill="none"/>
<rect x="1080.6" y="185.6" width="3.9" height="62.6" rx="0.8" stroke="#111" stroke-width="1.7" fill="none"/>
<rect x="1088.08" y="185.6" width="3.9" height="62.6" rx="0.8" stroke="#111" stroke-width="1.7" fill="none"/>
<rect x="1095.56" y="185.6" width="3.9" height="62.6" rx="0.8" stroke="#111" stroke-width="1.7" fill="none"/>
<rect x="1103.04" y="185.6" width="3.9" height="62.6" rx="0.8" stroke="#111" stroke-width="1.7" fill="none"/>
<rect x="1110.52" y="185.6" width="3.9" height="62.6" rx="0.8" stroke="#111" stroke-width="1.7" fill="none"/>
<rect x="1118" y="185.6" width="3.9" height="62.6" rx="0.8" stroke="#111" stroke-width="1.7" fill="none"/>
<rect x="1125.48" y="185.6" width="3.9" height="62.6" rx="0.8" stroke="#111" stroke-width="1.7" fill="none"/>
<rect x="1132.96" y="185.6" width="3.9" height="62.6" rx="0.8" stroke="#111" stroke-width="1.7" fill="none"/>
<rect x="1140.44" y="185.6" width="3.9" height="62.6" rx="0.8" stroke="#111" stroke-width="1.7" fill="none"/>
<rect x="1147.92" y="185.6" width="3.9" height="62.6" rx="0.8" stroke="#111" stroke-width="1.7" fill="none"/>
<rect x="1155.4" y="185.6" width="3.9" height="62.6" rx="0.8" stroke="#111" stroke-width="1.7" fill="none"/>
<rect x="1162.88" y="185.6" width="3.9" height="62.6" rx="0.8" stroke="#111" stroke-width="1.7" fill="none"/>
<rect x="1170.36" y="185.6" width="3.9" height="62.6" rx="0.8" stroke="#111" stroke-width="1.7" fill="none"/>
<rect x="1177.84" y="185.6" width="3.9" height="62.6" rx="0.8" stroke="#111" stroke-width="1.7" fill="none"/>
<rect x="1185.32" y="185.6" width="3.9" height="62.6" rx="0.8" stroke="#111" stroke-width="1.7" fill="none"/>
<circle cx="1051.5" cy="178.3" r="3.2" stroke="#111" stroke-width="1.2" fill="#fff"/>
<circle cx="1051.5" cy="178.3" r="1.3" stroke="#111" stroke-width="0.9" fill="none"/>
<circle cx="1051.5" cy="254.2" r="3.2" stroke="#111" stroke-width="1.2" fill="#fff"/>
<circle cx="1051.5" cy="254.2" r="1.3" stroke="#111" stroke-width="0.9" fill="none"/>
<circle cx="1116.5" cy="178.3" r="3.2" stroke="#111" stroke-width="1.2" fill="#fff"/>
<circle cx="1116.5" cy="178.3" r="1.3" stroke="#111" stroke-width="0.9" fill="none"/>
<circle cx="1116.5" cy="254.2" r="3.2" stroke="#111" stroke-width="1.2" fill="#fff"/>
<circle cx="1116.5" cy="254.2" r="1.3" stroke="#111" stroke-width="0.9" fill="none"/>
<circle cx="1181.5" cy="178.3" r="3.2" stroke="#111" stroke-width="1.2" fill="#fff"/>
<circle cx="1181.5" cy="178.3" r="1.3" stroke="#111" stroke-width="0.9" fill="none"/>
<circle cx="1181.5" cy="254.2" r="3.2" stroke="#111" stroke-width="1.2" fill="#fff"/>
<circle cx="1181.5" cy="254.2" r="1.3" stroke="#111" stroke-width="0.9" fill="none"/>
<circle cx="1018.2" cy="191.5" r="3.2" stroke="#111" stroke-width="1.2" fill="#fff"/>
<circle cx="1018.2" cy="191.5" r="1.3" stroke="#111" stroke-width="0.9" fill="none"/>
<circle cx="1214.8" cy="191.5" r="3.2" stroke="#111" stroke-width="1.2" fill="#fff"/>
<circle cx="1214.8" cy="191.5" r="1.3" stroke="#111" stroke-width="0.9" fill="none"/>
<circle cx="1018.2" cy="244" r="3.2" stroke="#111" stroke-width="1.2" fill="#fff"/>
<circle cx="1018.2" cy="244" r="1.3" stroke="#111" stroke-width="0.9" fill="none"/>
<circle cx="1214.8" cy="244" r="3.2" stroke="#111" stroke-width="1.2" fill="#fff"/>
<circle cx="1214.8" cy="244" r="1.3" stroke="#111" stroke-width="0.9" fill="none"/>
<path d="M1042.00 295.8 L1042.00 262 Q1042.00 260.2 1043.70 260.2 Q1045.40 260.2 1045.40 262 L1045.40 295.8" stroke="#111" stroke-width="1.1" fill="none" />
<path d="M1048.20 295.8 L1048.20 262 Q1048.20 260.2 1049.90 260.2 Q1051.60 260.2 1051.60 262 L1051.60 295.8" stroke="#111" stroke-width="1.1" fill="none" />
<path d="M1054.40 295.8 L1054.40 262 Q1054.40 260.2 1056.10 260.2 Q1057.80 260.2 1057.80 262 L1057.80 295.8" stroke="#111" stroke-width="1.1" fill="none" />
<path d="M1060.60 295.8 L1060.60 262 Q1060.60 260.2 1062.30 260.2 Q1064.00 260.2 1064.00 262 L1064.00 295.8" stroke="#111" stroke-width="1.1" fill="none" />
<path d="M1066.80 295.8 L1066.80 262 Q1066.80 260.2 1068.50 260.2 Q1070.20 260.2 1070.20 262 L1070.20 295.8" stroke="#111" stroke-width="1.1" fill="none" />
<path d="M1073.00 295.8 L1073.00 262 Q1073.00 260.2 1074.70 260.2 Q1076.40 260.2 1076.40 262 L1076.40 295.8" stroke="#111" stroke-width="1.1" fill="none" />
<path d="M1079.20 295.8 L1079.20 262 Q1079.20 260.2 1080.90 260.2 Q1082.60 260.2 1082.60 262 L1082.60 295.8" stroke="#111" stroke-width="1.1" fill="none" />
<path d="M1085.40 295.8 L1085.40 262 Q1085.40 260.2 1087.10 260.2 Q1088.80 260.2 1088.80 262 L1088.80 295.8" stroke="#111" stroke-width="1.1" fill="none" />
<path d="M1091.60 295.8 L1091.60 262 Q1091.60 260.2 1093.30 260.2 Q1095.00 260.2 1095.00 262 L1095.00 295.8" stroke="#111" stroke-width="1.1" fill="none" />
<path d="M1097.80 295.8 L1097.80 262 Q1097.80 260.2 1099.50 260.2 Q1101.20 260.2 1101.20 262 L1101.20 295.8" stroke="#111" stroke-width="1.1" fill="none" />
<path d="M1104.00 295.8 L1104.00 262 Q1104.00 260.2 1105.70 260.2 Q1107.40 260.2 1107.40 262 L1107.40 295.8" stroke="#111" stroke-width="1.1" fill="none" />
<path d="M1110.20 295.8 L1110.20 262 Q1110.20 260.2 1111.90 260.2 Q1113.60 260.2 1113.60 262 L1113.60 295.8" stroke="#111" stroke-width="1.1" fill="none" />
<path d="M1116.40 295.8 L1116.40 262 Q1116.40 260.2 1118.10 260.2 Q1119.80 260.2 1119.80 262 L1119.80 295.8" stroke="#111" stroke-width="1.1" fill="none" />
<path d="M1122.60 295.8 L1122.60 262 Q1122.60 260.2 1124.30 260.2 Q1126.00 260.2 1126.00 262 L1126.00 295.8" stroke="#111" stroke-width="1.1" fill="none" />
<path d="M1128.80 295.8 L1128.80 262 Q1128.80 260.2 1130.50 260.2 Q1132.20 260.2 1132.20 262 L1132.20 295.8" stroke="#111" stroke-width="1.1" fill="none" />
<path d="M1135.00 295.8 L1135.00 262 Q1135.00 260.2 1136.70 260.2 Q1138.40 260.2 1138.40 262 L1138.40 295.8" stroke="#111" stroke-width="1.1" fill="none" />
<path d="M1141.20 295.8 L1141.20 262 Q1141.20 260.2 1142.90 260.2 Q1144.60 260.2 1144.60 262 L1144.60 295.8" stroke="#111" stroke-width="1.1" fill="none" />
<path d="M1147.40 295.8 L1147.40 262 Q1147.40 260.2 1149.10 260.2 Q1150.80 260.2 1150.80 262 L1150.80 295.8" stroke="#111" stroke-width="1.1" fill="none" />
<path d="M1153.60 295.8 L1153.60 262 Q1153.60 260.2 1155.30 260.2 Q1157.00 260.2 1157.00 262 L1157.00 295.8" stroke="#111" stroke-width="1.1" fill="none" />
<path d="M1159.80 295.8 L1159.80 262 Q1159.80 260.2 1161.50 260.2 Q1163.20 260.2 1163.20 262 L1163.20 295.8" stroke="#111" stroke-width="1.1" fill="none" />
<path d="M1166.00 295.8 L1166.00 262 Q1166.00 260.2 1167.70 260.2 Q1169.40 260.2 1169.40 262 L1169.40 295.8" stroke="#111" stroke-width="1.1" fill="none" />
<path d="M1172.20 295.8 L1172.20 262 Q1172.20 260.2 1173.90 260.2 Q1175.60 260.2 1175.60 262 L1175.60 295.8" stroke="#111" stroke-width="1.1" fill="none" />
<path d="M1178.40 295.8 L1178.40 262 Q1178.40 260.2 1180.10 260.2 Q1181.80 260.2 1181.80 262 L1181.80 295.8" stroke="#111" stroke-width="1.1" fill="none" />
<path d="M1184.60 295.8 L1184.60 262 Q1184.60 260.2 1186.30 260.2 Q1188.00 260.2 1188.00 262 L1188.00 295.8" stroke="#111" stroke-width="1.1" fill="none" />
<line x1="1116.4" y1="258" x2="1116.4" y2="296" stroke="#111" stroke-width="1.2"/>
<line x1="1010.1" y1="296.6" x2="1222.9" y2="296.6" stroke="#111" stroke-width="1.6"/>
<line x1="1012" y1="299.9" x2="1221" y2="299.9" stroke="#111" stroke-width="0.9"/>
<line x1="1023" y1="303.9" x2="1210" y2="303.9" stroke="#111" stroke-width="0.9"/>
<path d="M1012.4 299 Q1014 305 1023 309.5 L1044.2 373.1 Q1046.5 377.5 1052.5 377.8" stroke="#111" stroke-width="1.1" fill="none" />
<path d="M1019 310 L1041 372 Q1044 376 1052.5 376" stroke="#111" stroke-width="0.8" fill="none" />
<path d="M1030 303.9 L1049 374" stroke="#111" stroke-width="0.8" fill="none" />
<rect x="1026.5" y="301.5" width="4" height="10.5" transform="rotate(-25 1028.5 306.8)" stroke="#111" stroke-width="0.9" fill="none"/>
<g transform="translate(2233.0,0) scale(-1,1)">
<path d="M1012.4 299 Q1014 305 1023 309.5 L1044.2 373.1 Q1046.5 377.5 1052.5 377.8" stroke="#111" stroke-width="1.1" fill="none" />
<path d="M1019 310 L1041 372 Q1044 376 1052.5 376" stroke="#111" stroke-width="0.8" fill="none" />
<path d="M1030 303.9 L1049 374" stroke="#111" stroke-width="0.8" fill="none" />
<rect x="1026.5" y="301.5" width="4" height="10.5" transform="rotate(-25 1028.5 306.8)" stroke="#111" stroke-width="0.9" fill="none"/>
</g>
<line x1="1052.5" y1="378.8" x2="1180.5" y2="378.8" stroke="#111" stroke-width="1.2"/>
<path d="M1058.00 378.6 L1058.00 308.6 L1061.95 308.6 L1061.95 378.6" stroke="#111" stroke-width="1.6" fill="none" />
<path d="M1066.05 378.6 L1066.05 308.6 L1070.00 308.6 L1070.00 378.6" stroke="#111" stroke-width="1.6" fill="none" />
<path d="M1074.10 378.6 L1074.10 308.6 L1078.05 308.6 L1078.05 378.6" stroke="#111" stroke-width="1.6" fill="none" />
<path d="M1082.15 378.6 L1082.15 308.6 L1086.10 308.6 L1086.10 378.6" stroke="#111" stroke-width="1.6" fill="none" />
<path d="M1090.20 378.6 L1090.20 308.6 L1094.15 308.6 L1094.15 378.6" stroke="#111" stroke-width="1.6" fill="none" />
<path d="M1098.25 378.6 L1098.25 308.6 L1102.20 308.6 L1102.20 378.6" stroke="#111" stroke-width="1.6" fill="none" />
<path d="M1106.30 378.6 L1106.30 308.6 L1110.25 308.6 L1110.25 378.6" stroke="#111" stroke-width="1.6" fill="none" />
<path d="M1114.35 378.6 L1114.35 308.6 L1118.30 308.6 L1118.30 378.6" stroke="#111" stroke-width="1.6" fill="none" />
<path d="M1122.40 378.6 L1122.40 308.6 L1126.35 308.6 L1126.35 378.6" stroke="#111" stroke-width="1.6" fill="none" />
<path d="M1130.45 378.6 L1130.45 308.6 L1134.40 308.6 L1134.40 378.6" stroke="#111" stroke-width="1.6" fill="none" />
<path d="M1138.50 378.6 L1138.50 308.6 L1142.45 308.6 L1142.45 378.6" stroke="#111" stroke-width="1.6" fill="none" />
<path d="M1146.55 378.6 L1146.55 308.6 L1150.50 308.6 L1150.50 378.6" stroke="#111" stroke-width="1.6" fill="none" />
<path d="M1154.60 378.6 L1154.60 308.6 L1158.55 308.6 L1158.55 378.6" stroke="#111" stroke-width="1.6" fill="none" />
<path d="M1162.65 378.6 L1162.65 308.6 L1166.60 308.6 L1166.60 378.6" stroke="#111" stroke-width="1.6" fill="none" />
<path d="M1170.70 378.6 L1170.70 308.6 L1174.65 308.6 L1174.65 378.6" stroke="#111" stroke-width="1.6" fill="none" />
<line x1="1040" y1="308.4" x2="1193" y2="308.4" stroke="#111" stroke-width="1.0"/>
<line x1="1050" y1="313.6" x2="1183" y2="313.6" stroke="#111" stroke-width="0.7"/>
<line x1="1045" y1="356" x2="1188" y2="356" stroke="#555" stroke-width="0.7"/>
<line x1="1053.6" y1="308" x2="1053.6" y2="377" stroke="#666" stroke-width="1.6"/>
<line x1="1179.4" y1="308" x2="1179.4" y2="377" stroke="#666" stroke-width="1.6"/>
<rect x="1234.3" y="238.3" width="7" height="40.5" rx="0" stroke="#111" stroke-width="1.0" fill="none"/>
<line x1="1237.8" y1="240" x2="1237.8" y2="277" stroke="#111" stroke-width="0.7"/>
<rect x="1242" y="237.5" width="3.6" height="3.6" rx="0" stroke="#111" stroke-width="0.9" fill="none"/>
<rect x="1242" y="273" width="3.6" height="3.6" rx="0" stroke="#111" stroke-width="0.9" fill="none"/>
</svg>
</body></html>
